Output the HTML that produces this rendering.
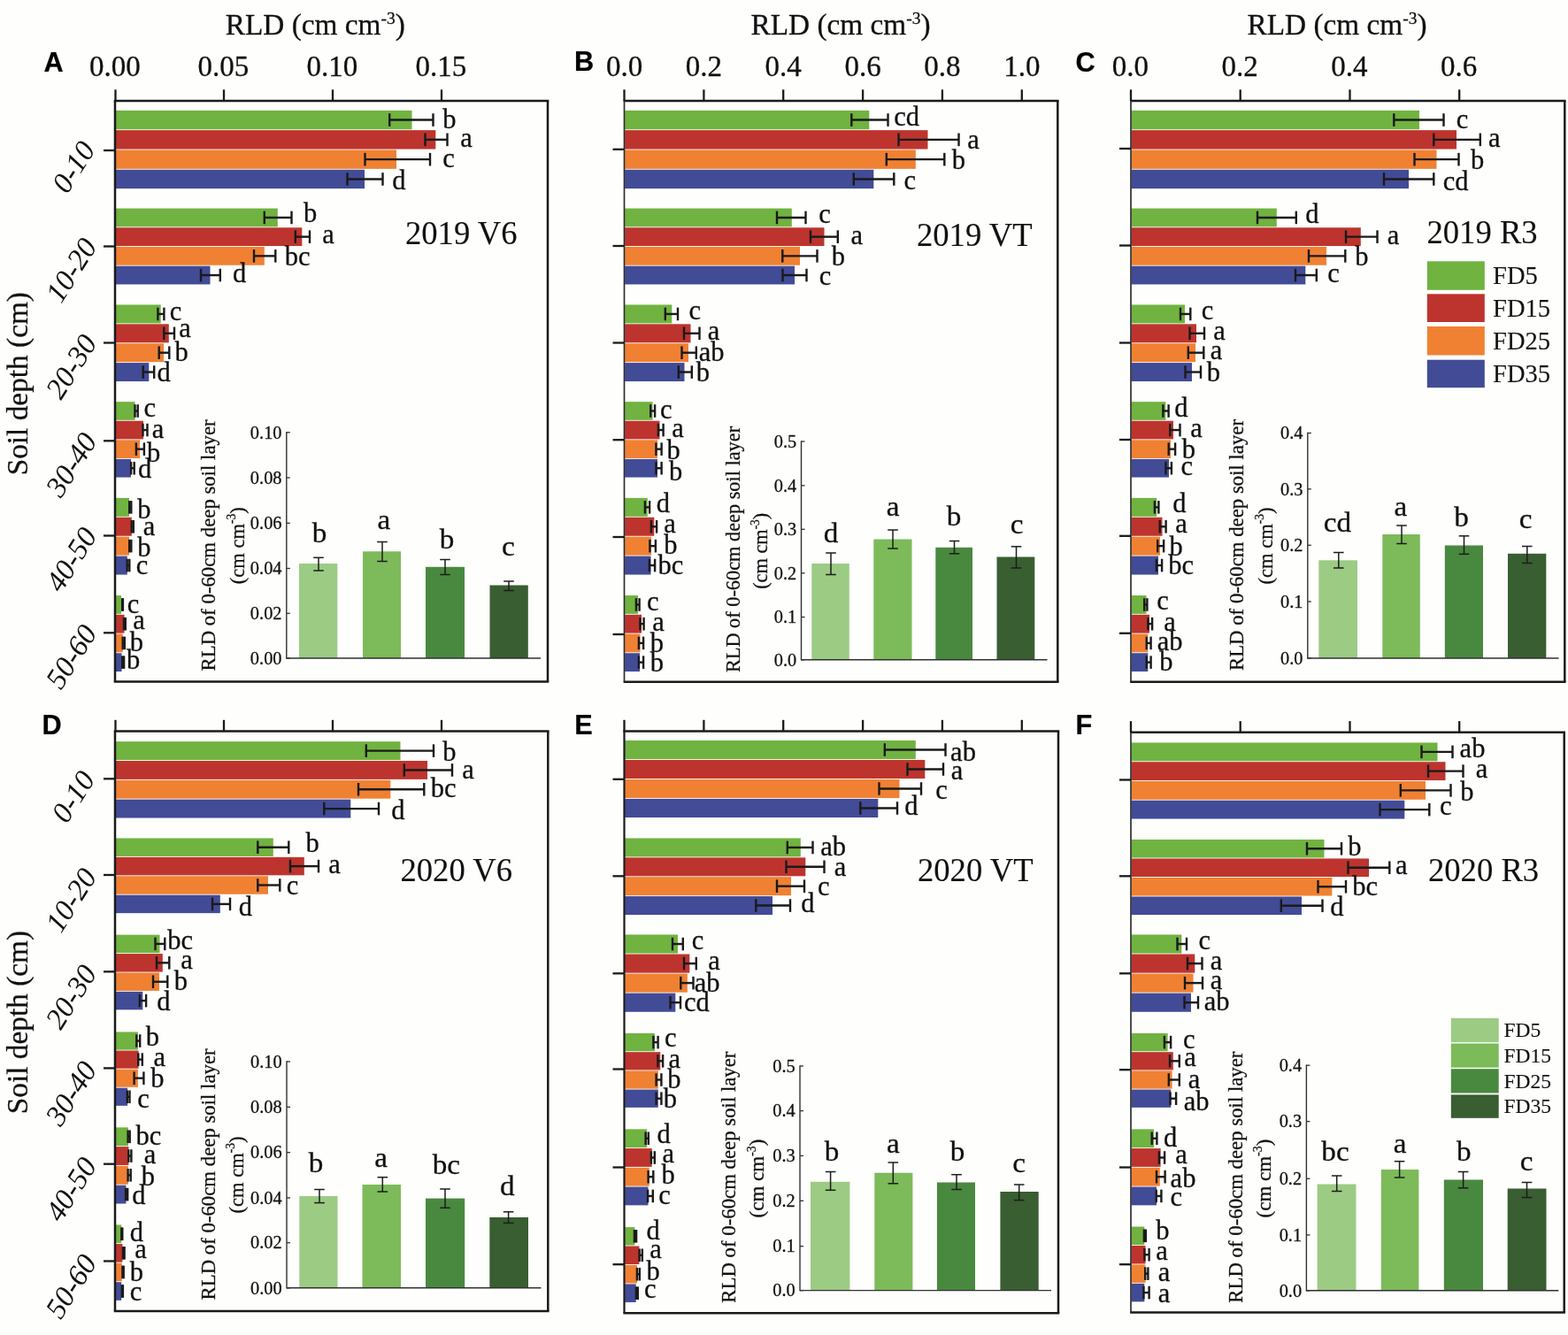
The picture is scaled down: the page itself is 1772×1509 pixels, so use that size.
<!DOCTYPE html>
<html lang="en">
<head>
<meta charset="utf-8">
<title>Root length density (RLD) by soil depth, 2019-2020</title>
<style>
html,body{margin:0;padding:0;background:#fefefd;}
body{width:1772px;height:1509px;overflow:hidden;}
svg{display:block;filter:blur(0.45px);}
text{fill:#111;font-family:"Liberation Serif", serif;stroke:#111;stroke-width:0.3px;}
text.i{font-style:italic;stroke-width:0;}
text.n{stroke-width:0.1px;}
text.b{font-family:"Liberation Sans", sans-serif;font-weight:bold;fill:#000;stroke:#000;stroke-width:0.25px;}
</style>
</head>
<body>
<svg width="1772" height="1509" viewBox="0 0 1772 1509" role="img" aria-label="Root length density by soil depth for FD5, FD15, FD25 and FD35 in 2019 and 2020">
<rect width="1772" height="1509" fill="#fefefd"/>
<g id="panel-A">
<rect x="130.6" y="124.85" width="334.9" height="21.4" fill="#70b340"/>
<line x1="440.2" y1="135.55" x2="489.5" y2="135.55" stroke="#1a1a1a" stroke-width="2.4"/>
<line x1="440.2" y1="128.25" x2="440.2" y2="142.85" stroke="#1a1a1a" stroke-width="2.4"/>
<line x1="489.5" y1="128.25" x2="489.5" y2="142.85" stroke="#1a1a1a" stroke-width="2.4"/>
<text class="s" transform="translate(500.3,144.8)" font-size="30.5">b</text>
<rect x="130.6" y="147.15" width="361.7" height="21.4" fill="#bd342e"/>
<line x1="480.5" y1="157.85" x2="505.5" y2="157.85" stroke="#1a1a1a" stroke-width="2.4"/>
<line x1="480.5" y1="150.55" x2="480.5" y2="165.15" stroke="#1a1a1a" stroke-width="2.4"/>
<line x1="505.5" y1="150.55" x2="505.5" y2="165.15" stroke="#1a1a1a" stroke-width="2.4"/>
<text class="s" transform="translate(520.3,166)" font-size="30.5">a</text>
<rect x="130.6" y="169.45" width="317.4" height="21.4" fill="#f08133"/>
<line x1="412.5" y1="180.15" x2="486" y2="180.15" stroke="#1a1a1a" stroke-width="2.4"/>
<line x1="412.5" y1="172.85" x2="412.5" y2="187.45" stroke="#1a1a1a" stroke-width="2.4"/>
<line x1="486" y1="172.85" x2="486" y2="187.45" stroke="#1a1a1a" stroke-width="2.4"/>
<text class="s" transform="translate(500.3,189)" font-size="30.5">c</text>
<rect x="130.6" y="191.75" width="281.4" height="21.4" fill="#424b96"/>
<line x1="392.5" y1="202.45" x2="432.5" y2="202.45" stroke="#1a1a1a" stroke-width="2.4"/>
<line x1="392.5" y1="195.15" x2="392.5" y2="209.75" stroke="#1a1a1a" stroke-width="2.4"/>
<line x1="432.5" y1="195.15" x2="432.5" y2="209.75" stroke="#1a1a1a" stroke-width="2.4"/>
<text class="s" transform="translate(443.3,213.5)" font-size="30.5">d</text>
<rect x="130.6" y="235.55" width="183.2" height="20.8" fill="#70b340"/>
<line x1="298.8" y1="245.95" x2="329.5" y2="245.95" stroke="#1a1a1a" stroke-width="2.4"/>
<line x1="298.8" y1="238.65" x2="298.8" y2="253.25" stroke="#1a1a1a" stroke-width="2.4"/>
<line x1="329.5" y1="238.65" x2="329.5" y2="253.25" stroke="#1a1a1a" stroke-width="2.4"/>
<text class="s" transform="translate(343.1,251)" font-size="30.5">b</text>
<rect x="130.6" y="257.25" width="210.7" height="20.8" fill="#bd342e"/>
<line x1="333.8" y1="267.65" x2="350" y2="267.65" stroke="#1a1a1a" stroke-width="2.4"/>
<line x1="333.8" y1="260.35" x2="333.8" y2="274.95" stroke="#1a1a1a" stroke-width="2.4"/>
<line x1="350" y1="260.35" x2="350" y2="274.95" stroke="#1a1a1a" stroke-width="2.4"/>
<text class="s" transform="translate(364.3,275)" font-size="30.5">a</text>
<rect x="130.6" y="278.95" width="168.2" height="20.8" fill="#f08133"/>
<line x1="287" y1="289.35" x2="311.3" y2="289.35" stroke="#1a1a1a" stroke-width="2.4"/>
<line x1="287" y1="282.05" x2="287" y2="296.65" stroke="#1a1a1a" stroke-width="2.4"/>
<line x1="311.3" y1="282.05" x2="311.3" y2="296.65" stroke="#1a1a1a" stroke-width="2.4"/>
<text class="s" transform="translate(321.8,299.8)" font-size="30.5">bc</text>
<rect x="130.6" y="300.65" width="106.9" height="20.8" fill="#424b96"/>
<line x1="227" y1="311.05" x2="248.8" y2="311.05" stroke="#1a1a1a" stroke-width="2.4"/>
<line x1="227" y1="303.75" x2="227" y2="318.35" stroke="#1a1a1a" stroke-width="2.4"/>
<line x1="248.8" y1="303.75" x2="248.8" y2="318.35" stroke="#1a1a1a" stroke-width="2.4"/>
<text class="s" transform="translate(263.1,319)" font-size="30.5">d</text>
<rect x="130.6" y="344.45" width="51.1" height="20.98" fill="#70b340"/>
<line x1="178.4" y1="354.94" x2="185.4" y2="354.94" stroke="#1a1a1a" stroke-width="2.4"/>
<line x1="178.4" y1="347.64" x2="178.4" y2="362.24" stroke="#1a1a1a" stroke-width="2.4"/>
<line x1="185.4" y1="347.64" x2="185.4" y2="362.24" stroke="#1a1a1a" stroke-width="2.4"/>
<text class="s" transform="translate(191.8,361.8)" font-size="30.5">c</text>
<rect x="130.6" y="366.32" width="60.2" height="20.98" fill="#bd342e"/>
<line x1="185.3" y1="376.81" x2="197" y2="376.81" stroke="#1a1a1a" stroke-width="2.4"/>
<line x1="185.3" y1="369.51" x2="185.3" y2="384.11" stroke="#1a1a1a" stroke-width="2.4"/>
<line x1="197" y1="369.51" x2="197" y2="384.11" stroke="#1a1a1a" stroke-width="2.4"/>
<text class="s" transform="translate(202.3,381)" font-size="30.5">a</text>
<rect x="130.6" y="388.2" width="54.4" height="20.98" fill="#f08133"/>
<line x1="179.7" y1="398.69" x2="191.3" y2="398.69" stroke="#1a1a1a" stroke-width="2.4"/>
<line x1="179.7" y1="391.39" x2="179.7" y2="405.99" stroke="#1a1a1a" stroke-width="2.4"/>
<line x1="191.3" y1="391.39" x2="191.3" y2="405.99" stroke="#1a1a1a" stroke-width="2.4"/>
<text class="s" transform="translate(197.6,408)" font-size="30.5">b</text>
<rect x="130.6" y="410.07" width="37.7" height="20.98" fill="#424b96"/>
<line x1="161.7" y1="420.56" x2="174.2" y2="420.56" stroke="#1a1a1a" stroke-width="2.4"/>
<line x1="161.7" y1="413.26" x2="161.7" y2="427.86" stroke="#1a1a1a" stroke-width="2.4"/>
<line x1="174.2" y1="413.26" x2="174.2" y2="427.86" stroke="#1a1a1a" stroke-width="2.4"/>
<text class="s" transform="translate(177.6,430.6)" font-size="30.5">d</text>
<rect x="130.6" y="454.15" width="22" height="20.68" fill="#70b340"/>
<line x1="152.5" y1="464.49" x2="155.7" y2="464.49" stroke="#1a1a1a" stroke-width="2.4"/>
<line x1="152.5" y1="457.19" x2="152.5" y2="471.79" stroke="#1a1a1a" stroke-width="2.4"/>
<line x1="155.7" y1="457.19" x2="155.7" y2="471.79" stroke="#1a1a1a" stroke-width="2.4"/>
<text class="s" transform="translate(162.6,471.3)" font-size="30.5">c</text>
<rect x="130.6" y="475.72" width="31.4" height="20.68" fill="#bd342e"/>
<line x1="161.5" y1="486.06" x2="166.5" y2="486.06" stroke="#1a1a1a" stroke-width="2.4"/>
<line x1="161.5" y1="478.76" x2="161.5" y2="493.36" stroke="#1a1a1a" stroke-width="2.4"/>
<line x1="166.5" y1="478.76" x2="166.5" y2="493.36" stroke="#1a1a1a" stroke-width="2.4"/>
<text class="s" transform="translate(171.8,494.6)" font-size="30.5">a</text>
<rect x="130.6" y="497.3" width="27.4" height="20.68" fill="#f08133"/>
<line x1="153.9" y1="507.64" x2="162.9" y2="507.64" stroke="#1a1a1a" stroke-width="2.4"/>
<line x1="153.9" y1="500.34" x2="153.9" y2="514.94" stroke="#1a1a1a" stroke-width="2.4"/>
<line x1="162.9" y1="500.34" x2="162.9" y2="514.94" stroke="#1a1a1a" stroke-width="2.4"/>
<text class="s" transform="translate(166,522.2)" font-size="30.5">b</text>
<rect x="130.6" y="518.88" width="17.4" height="20.68" fill="#424b96"/>
<line x1="148.1" y1="529.21" x2="151.7" y2="529.21" stroke="#1a1a1a" stroke-width="2.4"/>
<line x1="148.1" y1="521.91" x2="148.1" y2="536.51" stroke="#1a1a1a" stroke-width="2.4"/>
<line x1="151.7" y1="521.91" x2="151.7" y2="536.51" stroke="#1a1a1a" stroke-width="2.4"/>
<text class="s" transform="translate(156,540.1)" font-size="30.5">d</text>
<rect x="130.6" y="562.85" width="15.4" height="21" fill="#70b340"/>
<line x1="146.2" y1="573.35" x2="148.3" y2="573.35" stroke="#1a1a1a" stroke-width="2.4"/>
<line x1="146.2" y1="566.05" x2="146.2" y2="580.65" stroke="#1a1a1a" stroke-width="2.4"/>
<line x1="148.3" y1="566.05" x2="148.3" y2="580.65" stroke="#1a1a1a" stroke-width="2.4"/>
<text class="s" transform="translate(155.3,586)" font-size="30.5">b</text>
<rect x="130.6" y="584.75" width="18.2" height="21" fill="#bd342e"/>
<line x1="148.7" y1="595.25" x2="150.8" y2="595.25" stroke="#1a1a1a" stroke-width="2.4"/>
<line x1="148.7" y1="587.95" x2="148.7" y2="602.55" stroke="#1a1a1a" stroke-width="2.4"/>
<line x1="150.8" y1="587.95" x2="150.8" y2="602.55" stroke="#1a1a1a" stroke-width="2.4"/>
<text class="s" transform="translate(161.8,605)" font-size="30.5">a</text>
<rect x="130.6" y="606.65" width="15.4" height="21" fill="#f08133"/>
<line x1="146.2" y1="617.15" x2="148.3" y2="617.15" stroke="#1a1a1a" stroke-width="2.4"/>
<line x1="146.2" y1="609.85" x2="146.2" y2="624.45" stroke="#1a1a1a" stroke-width="2.4"/>
<line x1="148.3" y1="609.85" x2="148.3" y2="624.45" stroke="#1a1a1a" stroke-width="2.4"/>
<text class="s" transform="translate(155.3,629)" font-size="30.5">b</text>
<rect x="130.6" y="628.55" width="13.2" height="21" fill="#424b96"/>
<line x1="143.7" y1="639.05" x2="146.3" y2="639.05" stroke="#1a1a1a" stroke-width="2.4"/>
<line x1="143.7" y1="631.75" x2="143.7" y2="646.35" stroke="#1a1a1a" stroke-width="2.4"/>
<line x1="146.3" y1="631.75" x2="146.3" y2="646.35" stroke="#1a1a1a" stroke-width="2.4"/>
<text class="s" transform="translate(153.8,648.5)" font-size="30.5">c</text>
<rect x="130.6" y="673.05" width="6.4" height="20.82" fill="#70b340"/>
<line x1="138.2" y1="683.46" x2="138.9" y2="683.46" stroke="#1a1a1a" stroke-width="2.4"/>
<line x1="138.2" y1="676.16" x2="138.2" y2="690.76" stroke="#1a1a1a" stroke-width="2.4"/>
<line x1="138.9" y1="676.16" x2="138.9" y2="690.76" stroke="#1a1a1a" stroke-width="2.4"/>
<text class="s" transform="translate(143.8,692.5)" font-size="30.5">c</text>
<rect x="130.6" y="694.78" width="9.9" height="20.82" fill="#bd342e"/>
<line x1="140" y1="705.19" x2="141.8" y2="705.19" stroke="#1a1a1a" stroke-width="2.4"/>
<line x1="140" y1="697.89" x2="140" y2="712.49" stroke="#1a1a1a" stroke-width="2.4"/>
<line x1="141.8" y1="697.89" x2="141.8" y2="712.49" stroke="#1a1a1a" stroke-width="2.4"/>
<text class="s" transform="translate(150.3,710.5)" font-size="30.5">a</text>
<rect x="130.6" y="716.5" width="8.2" height="20.82" fill="#f08133"/>
<line x1="138.7" y1="726.91" x2="140.8" y2="726.91" stroke="#1a1a1a" stroke-width="2.4"/>
<line x1="138.7" y1="719.61" x2="138.7" y2="734.21" stroke="#1a1a1a" stroke-width="2.4"/>
<line x1="140.8" y1="719.61" x2="140.8" y2="734.21" stroke="#1a1a1a" stroke-width="2.4"/>
<text class="s" transform="translate(146.8,736)" font-size="30.5">b</text>
<rect x="130.6" y="738.23" width="6.9" height="20.82" fill="#424b96"/>
<line x1="138.2" y1="748.64" x2="140.1" y2="748.64" stroke="#1a1a1a" stroke-width="2.4"/>
<line x1="138.2" y1="741.34" x2="138.2" y2="755.94" stroke="#1a1a1a" stroke-width="2.4"/>
<line x1="140.1" y1="741.34" x2="140.1" y2="755.94" stroke="#1a1a1a" stroke-width="2.4"/>
<text class="s" transform="translate(143.1,755.6)" font-size="30.5">b</text>
<line x1="128.75" y1="114" x2="620.25" y2="114" stroke="#1a1a1a" stroke-width="2.5"/>
<line x1="619" y1="114" x2="619" y2="770.5" stroke="#1a1a1a" stroke-width="2.5"/>
<line x1="128.75" y1="770.5" x2="620.25" y2="770.5" stroke="#1a1a1a" stroke-width="2.5"/>
<line x1="130" y1="114" x2="130" y2="770.5" stroke="#1a1a1a" stroke-width="2.5"/>
<line x1="130.5" y1="101.3" x2="130.5" y2="114" stroke="#1a1a1a" stroke-width="2.3"/>
<line x1="253" y1="101.3" x2="253" y2="114" stroke="#1a1a1a" stroke-width="2.3"/>
<line x1="376" y1="101.3" x2="376" y2="114" stroke="#1a1a1a" stroke-width="2.3"/>
<line x1="499" y1="101.3" x2="499" y2="114" stroke="#1a1a1a" stroke-width="2.3"/>
<line x1="117" y1="170" x2="130" y2="170" stroke="#1a1a1a" stroke-width="2.3"/>
<line x1="117" y1="278.5" x2="130" y2="278.5" stroke="#1a1a1a" stroke-width="2.3"/>
<line x1="117" y1="387.5" x2="130" y2="387.5" stroke="#1a1a1a" stroke-width="2.3"/>
<line x1="117" y1="498.3" x2="130" y2="498.3" stroke="#1a1a1a" stroke-width="2.3"/>
<line x1="117" y1="605.5" x2="130" y2="605.5" stroke="#1a1a1a" stroke-width="2.3"/>
<line x1="117" y1="715.3" x2="130" y2="715.3" stroke="#1a1a1a" stroke-width="2.3"/>
<text class="s" transform="translate(129.8,85.5)" font-size="33" text-anchor="middle">0.00</text>
<text class="s" transform="translate(252.3,85.5)" font-size="33" text-anchor="middle">0.05</text>
<text class="s" transform="translate(375.3,85.5)" font-size="33" text-anchor="middle">0.10</text>
<text class="s" transform="translate(498.3,85.5)" font-size="33" text-anchor="middle">0.15</text>
<text class="s" transform="translate(356.3,39.3)" font-size="33.3" text-anchor="middle">RLD (cm cm<tspan font-size="19.5" dy="-12.3">-3</tspan><tspan dy="12.3">)</tspan></text>
<text class="b" transform="translate(49.6,80.9) scale(0.98,1)" font-size="31.3">A</text>
<text class="n" transform="translate(458,276.3) scale(0.99,1)" font-size="37">2019 V6</text>
<text class="i" transform="translate(108.7,168.9) rotate(-57.5)" font-size="33.2" text-anchor="end">0-10</text>
<text class="i" transform="translate(110.7,278.6) rotate(-57.5)" font-size="33.2" text-anchor="end">10-20</text>
<text class="i" transform="translate(110.7,387.6) rotate(-57.5)" font-size="33.2" text-anchor="end">20-30</text>
<text class="i" transform="translate(110.7,498.4) rotate(-57.5)" font-size="33.2" text-anchor="end">30-40</text>
<text class="i" transform="translate(110.7,605.6) rotate(-57.5)" font-size="33.2" text-anchor="end">40-50</text>
<text class="i" transform="translate(110.7,715.4) rotate(-57.5)" font-size="33.2" text-anchor="end">50-60</text>
<text class="s" transform="translate(31,433.7) rotate(-90) scale(1.01,1)" font-size="33" text-anchor="middle">Soil depth (cm)</text>
<rect x="338" y="637" width="43.3" height="107" fill="#9ccb84"/>
<rect x="410" y="623.3" width="43" height="120.7" fill="#7dba5a"/>
<rect x="481" y="640.8" width="44" height="103.2" fill="#49893f"/>
<rect x="553.5" y="661.5" width="43.3" height="82.5" fill="#395e31"/>
<line x1="360" y1="630.3" x2="360" y2="645" stroke="#1c1c1c" stroke-width="1.5"/>
<line x1="354.2" y1="630.3" x2="365.8" y2="630.3" stroke="#1c1c1c" stroke-width="1.5"/>
<line x1="354.2" y1="645" x2="365.8" y2="645" stroke="#1c1c1c" stroke-width="1.5"/>
<text class="s" transform="translate(361,613.3) scale(1.07,1)" font-size="31" text-anchor="middle">b</text>
<line x1="432" y1="612.5" x2="432" y2="634.5" stroke="#1c1c1c" stroke-width="1.5"/>
<line x1="426.2" y1="612.5" x2="437.8" y2="612.5" stroke="#1c1c1c" stroke-width="1.5"/>
<line x1="426.2" y1="634.5" x2="437.8" y2="634.5" stroke="#1c1c1c" stroke-width="1.5"/>
<text class="s" transform="translate(433.8,598.3) scale(1.07,1)" font-size="31" text-anchor="middle">a</text>
<line x1="503" y1="632.5" x2="503" y2="649.5" stroke="#1c1c1c" stroke-width="1.5"/>
<line x1="497.2" y1="632.5" x2="508.8" y2="632.5" stroke="#1c1c1c" stroke-width="1.5"/>
<line x1="497.2" y1="649.5" x2="508.8" y2="649.5" stroke="#1c1c1c" stroke-width="1.5"/>
<text class="s" transform="translate(505,619.5) scale(1.07,1)" font-size="31" text-anchor="middle">b</text>
<line x1="575" y1="657" x2="575" y2="667.5" stroke="#1c1c1c" stroke-width="1.5"/>
<line x1="569.2" y1="657" x2="580.8" y2="657" stroke="#1c1c1c" stroke-width="1.5"/>
<line x1="569.2" y1="667.5" x2="580.8" y2="667.5" stroke="#1c1c1c" stroke-width="1.5"/>
<text class="s" transform="translate(574.3,628.3) scale(1.07,1)" font-size="31" text-anchor="middle">c</text>
<line x1="323.8" y1="488.1" x2="323.8" y2="744.7" stroke="#303030" stroke-width="1.4"/>
<line x1="323.8" y1="744" x2="611" y2="744" stroke="#303030" stroke-width="1.4"/>
<line x1="323.8" y1="488.8" x2="327.8" y2="488.8" stroke="#303030" stroke-width="1.3"/>
<text class="s" transform="translate(318.5,495.5) scale(0.97,1)" font-size="21" text-anchor="end">0.10</text>
<line x1="323.8" y1="540" x2="327.8" y2="540" stroke="#303030" stroke-width="1.3"/>
<text class="s" transform="translate(318.5,546.7) scale(0.97,1)" font-size="21" text-anchor="end">0.08</text>
<line x1="323.8" y1="591.3" x2="327.8" y2="591.3" stroke="#303030" stroke-width="1.3"/>
<text class="s" transform="translate(318.5,598) scale(0.97,1)" font-size="21" text-anchor="end">0.06</text>
<line x1="323.8" y1="642.5" x2="327.8" y2="642.5" stroke="#303030" stroke-width="1.3"/>
<text class="s" transform="translate(318.5,649.2) scale(0.97,1)" font-size="21" text-anchor="end">0.04</text>
<line x1="323.8" y1="693.3" x2="327.8" y2="693.3" stroke="#303030" stroke-width="1.3"/>
<text class="s" transform="translate(318.5,700) scale(0.97,1)" font-size="21" text-anchor="end">0.02</text>
<line x1="323.8" y1="744" x2="327.8" y2="744" stroke="#303030" stroke-width="1.3"/>
<text class="s" transform="translate(318.5,750.7) scale(0.97,1)" font-size="21" text-anchor="end">0.00</text>
<text class="s" transform="translate(242.5,616.4) rotate(-90) scale(0.97,1)" font-size="23.5" text-anchor="middle">RLD of 0-60cm deep soil layer</text>
<text class="s" transform="translate(275.5,616.7) rotate(-90) scale(0.96,1)" font-size="23.5" text-anchor="middle">(cm cm<tspan font-size="14.1" dy="-9.4">-3</tspan><tspan dy="9.4">)</tspan></text>
</g>
<g id="panel-B">
<rect x="706.1" y="124.85" width="276.2" height="21.4" fill="#70b340"/>
<line x1="962.3" y1="135.55" x2="1003.5" y2="135.55" stroke="#1a1a1a" stroke-width="2.4"/>
<line x1="962.3" y1="128.25" x2="962.3" y2="142.85" stroke="#1a1a1a" stroke-width="2.4"/>
<line x1="1003.5" y1="128.25" x2="1003.5" y2="142.85" stroke="#1a1a1a" stroke-width="2.4"/>
<text class="s" transform="translate(1010.3,142.3)" font-size="30.5">cd</text>
<rect x="706.1" y="147.15" width="342.4" height="21.4" fill="#bd342e"/>
<line x1="1015.5" y1="157.85" x2="1083.5" y2="157.85" stroke="#1a1a1a" stroke-width="2.4"/>
<line x1="1015.5" y1="150.55" x2="1015.5" y2="165.15" stroke="#1a1a1a" stroke-width="2.4"/>
<line x1="1083.5" y1="150.55" x2="1083.5" y2="165.15" stroke="#1a1a1a" stroke-width="2.4"/>
<text class="s" transform="translate(1093.3,168)" font-size="30.5">a</text>
<rect x="706.1" y="169.45" width="328.7" height="21.4" fill="#f08133"/>
<line x1="1001.8" y1="180.15" x2="1067.3" y2="180.15" stroke="#1a1a1a" stroke-width="2.4"/>
<line x1="1001.8" y1="172.85" x2="1001.8" y2="187.45" stroke="#1a1a1a" stroke-width="2.4"/>
<line x1="1067.3" y1="172.85" x2="1067.3" y2="187.45" stroke="#1a1a1a" stroke-width="2.4"/>
<text class="s" transform="translate(1075.8,190.5)" font-size="30.5">b</text>
<rect x="706.1" y="191.75" width="281.2" height="21.4" fill="#424b96"/>
<line x1="964.8" y1="202.45" x2="1010.3" y2="202.45" stroke="#1a1a1a" stroke-width="2.4"/>
<line x1="964.8" y1="195.15" x2="964.8" y2="209.75" stroke="#1a1a1a" stroke-width="2.4"/>
<line x1="1010.3" y1="195.15" x2="1010.3" y2="209.75" stroke="#1a1a1a" stroke-width="2.4"/>
<text class="s" transform="translate(1021.6,214)" font-size="30.5">c</text>
<rect x="706.1" y="235.55" width="188.7" height="20.8" fill="#70b340"/>
<line x1="878" y1="245.95" x2="910.5" y2="245.95" stroke="#1a1a1a" stroke-width="2.4"/>
<line x1="878" y1="238.65" x2="878" y2="253.25" stroke="#1a1a1a" stroke-width="2.4"/>
<line x1="910.5" y1="238.65" x2="910.5" y2="253.25" stroke="#1a1a1a" stroke-width="2.4"/>
<text class="s" transform="translate(925.3,251.8)" font-size="30.5">c</text>
<rect x="706.1" y="257.25" width="225.4" height="20.8" fill="#bd342e"/>
<line x1="916" y1="267.65" x2="946.8" y2="267.65" stroke="#1a1a1a" stroke-width="2.4"/>
<line x1="916" y1="260.35" x2="916" y2="274.95" stroke="#1a1a1a" stroke-width="2.4"/>
<line x1="946.8" y1="260.35" x2="946.8" y2="274.95" stroke="#1a1a1a" stroke-width="2.4"/>
<text class="s" transform="translate(961.6,275.5)" font-size="30.5">a</text>
<rect x="706.1" y="278.95" width="197.9" height="20.8" fill="#f08133"/>
<line x1="884.3" y1="289.35" x2="923.5" y2="289.35" stroke="#1a1a1a" stroke-width="2.4"/>
<line x1="884.3" y1="282.05" x2="884.3" y2="296.65" stroke="#1a1a1a" stroke-width="2.4"/>
<line x1="923.5" y1="282.05" x2="923.5" y2="296.65" stroke="#1a1a1a" stroke-width="2.4"/>
<text class="s" transform="translate(939.8,299.8)" font-size="30.5">b</text>
<rect x="706.1" y="300.65" width="191.9" height="20.8" fill="#424b96"/>
<line x1="884.5" y1="311.05" x2="911.5" y2="311.05" stroke="#1a1a1a" stroke-width="2.4"/>
<line x1="884.5" y1="303.75" x2="884.5" y2="318.35" stroke="#1a1a1a" stroke-width="2.4"/>
<line x1="911.5" y1="303.75" x2="911.5" y2="318.35" stroke="#1a1a1a" stroke-width="2.4"/>
<text class="s" transform="translate(925.8,321.5)" font-size="30.5">c</text>
<rect x="706.1" y="344.45" width="53.2" height="20.98" fill="#70b340"/>
<line x1="751.8" y1="354.94" x2="766" y2="354.94" stroke="#1a1a1a" stroke-width="2.4"/>
<line x1="751.8" y1="347.64" x2="751.8" y2="362.24" stroke="#1a1a1a" stroke-width="2.4"/>
<line x1="766" y1="347.64" x2="766" y2="362.24" stroke="#1a1a1a" stroke-width="2.4"/>
<text class="s" transform="translate(778.6,361)" font-size="30.5">c</text>
<rect x="706.1" y="366.32" width="74.4" height="20.98" fill="#bd342e"/>
<line x1="773" y1="376.81" x2="790.5" y2="376.81" stroke="#1a1a1a" stroke-width="2.4"/>
<line x1="773" y1="369.51" x2="773" y2="384.11" stroke="#1a1a1a" stroke-width="2.4"/>
<line x1="790.5" y1="369.51" x2="790.5" y2="384.11" stroke="#1a1a1a" stroke-width="2.4"/>
<text class="s" transform="translate(799.8,384)" font-size="30.5">a</text>
<rect x="706.1" y="388.2" width="71.9" height="20.98" fill="#f08133"/>
<line x1="770.5" y1="398.69" x2="786.8" y2="398.69" stroke="#1a1a1a" stroke-width="2.4"/>
<line x1="770.5" y1="391.39" x2="770.5" y2="405.99" stroke="#1a1a1a" stroke-width="2.4"/>
<line x1="786.8" y1="391.39" x2="786.8" y2="405.99" stroke="#1a1a1a" stroke-width="2.4"/>
<text class="s" transform="translate(789.8,407.5)" font-size="30.5">ab</text>
<rect x="706.1" y="410.07" width="67.4" height="20.98" fill="#424b96"/>
<line x1="766.8" y1="420.56" x2="781.8" y2="420.56" stroke="#1a1a1a" stroke-width="2.4"/>
<line x1="766.8" y1="413.26" x2="766.8" y2="427.86" stroke="#1a1a1a" stroke-width="2.4"/>
<line x1="781.8" y1="413.26" x2="781.8" y2="427.86" stroke="#1a1a1a" stroke-width="2.4"/>
<text class="s" transform="translate(786.8,431)" font-size="30.5">b</text>
<rect x="706.1" y="454.15" width="31.4" height="20.68" fill="#70b340"/>
<line x1="735.2" y1="464.49" x2="740.1" y2="464.49" stroke="#1a1a1a" stroke-width="2.4"/>
<line x1="735.2" y1="457.19" x2="735.2" y2="471.79" stroke="#1a1a1a" stroke-width="2.4"/>
<line x1="740.1" y1="457.19" x2="740.1" y2="471.79" stroke="#1a1a1a" stroke-width="2.4"/>
<text class="s" transform="translate(746.1,472.5)" font-size="30.5">c</text>
<rect x="706.1" y="475.72" width="39.4" height="20.68" fill="#bd342e"/>
<line x1="743.9" y1="486.06" x2="749.6" y2="486.06" stroke="#1a1a1a" stroke-width="2.4"/>
<line x1="743.9" y1="478.76" x2="743.9" y2="493.36" stroke="#1a1a1a" stroke-width="2.4"/>
<line x1="749.6" y1="478.76" x2="749.6" y2="493.36" stroke="#1a1a1a" stroke-width="2.4"/>
<text class="s" transform="translate(759.3,494.3)" font-size="30.5">a</text>
<rect x="706.1" y="497.3" width="36.9" height="20.68" fill="#f08133"/>
<line x1="741.4" y1="507.64" x2="747.6" y2="507.64" stroke="#1a1a1a" stroke-width="2.4"/>
<line x1="741.4" y1="500.34" x2="741.4" y2="514.94" stroke="#1a1a1a" stroke-width="2.4"/>
<line x1="747.6" y1="500.34" x2="747.6" y2="514.94" stroke="#1a1a1a" stroke-width="2.4"/>
<text class="s" transform="translate(753.6,518.5)" font-size="30.5">b</text>
<rect x="706.1" y="518.88" width="36.9" height="20.68" fill="#424b96"/>
<line x1="741.4" y1="529.21" x2="747.6" y2="529.21" stroke="#1a1a1a" stroke-width="2.4"/>
<line x1="741.4" y1="521.91" x2="741.4" y2="536.51" stroke="#1a1a1a" stroke-width="2.4"/>
<line x1="747.6" y1="521.91" x2="747.6" y2="536.51" stroke="#1a1a1a" stroke-width="2.4"/>
<text class="s" transform="translate(756.1,543)" font-size="30.5">b</text>
<rect x="706.1" y="562.85" width="25.7" height="21" fill="#70b340"/>
<line x1="728.9" y1="573.35" x2="734.1" y2="573.35" stroke="#1a1a1a" stroke-width="2.4"/>
<line x1="728.9" y1="566.05" x2="728.9" y2="580.65" stroke="#1a1a1a" stroke-width="2.4"/>
<line x1="734.1" y1="566.05" x2="734.1" y2="580.65" stroke="#1a1a1a" stroke-width="2.4"/>
<text class="s" transform="translate(741.8,579)" font-size="30.5">d</text>
<rect x="706.1" y="584.75" width="33.2" height="21" fill="#bd342e"/>
<line x1="735.9" y1="595.25" x2="742.1" y2="595.25" stroke="#1a1a1a" stroke-width="2.4"/>
<line x1="735.9" y1="587.95" x2="735.9" y2="602.55" stroke="#1a1a1a" stroke-width="2.4"/>
<line x1="742.1" y1="587.95" x2="742.1" y2="602.55" stroke="#1a1a1a" stroke-width="2.4"/>
<text class="s" transform="translate(750.3,601.8)" font-size="30.5">a</text>
<rect x="706.1" y="606.65" width="29.9" height="21" fill="#f08133"/>
<line x1="734.4" y1="617.15" x2="740.9" y2="617.15" stroke="#1a1a1a" stroke-width="2.4"/>
<line x1="734.4" y1="609.85" x2="734.4" y2="624.45" stroke="#1a1a1a" stroke-width="2.4"/>
<line x1="740.9" y1="609.85" x2="740.9" y2="624.45" stroke="#1a1a1a" stroke-width="2.4"/>
<text class="s" transform="translate(750.3,625.5)" font-size="30.5">b</text>
<rect x="706.1" y="628.55" width="29.4" height="21" fill="#424b96"/>
<line x1="733.9" y1="639.05" x2="740.1" y2="639.05" stroke="#1a1a1a" stroke-width="2.4"/>
<line x1="733.9" y1="631.75" x2="733.9" y2="646.35" stroke="#1a1a1a" stroke-width="2.4"/>
<line x1="740.1" y1="631.75" x2="740.1" y2="646.35" stroke="#1a1a1a" stroke-width="2.4"/>
<text class="s" transform="translate(743.6,649.3)" font-size="30.5">bc</text>
<rect x="706.1" y="673.05" width="14.9" height="20.82" fill="#70b340"/>
<line x1="718.9" y1="683.46" x2="722.6" y2="683.46" stroke="#1a1a1a" stroke-width="2.4"/>
<line x1="718.9" y1="676.16" x2="718.9" y2="690.76" stroke="#1a1a1a" stroke-width="2.4"/>
<line x1="722.6" y1="676.16" x2="722.6" y2="690.76" stroke="#1a1a1a" stroke-width="2.4"/>
<text class="s" transform="translate(731.1,690)" font-size="30.5">c</text>
<rect x="706.1" y="694.78" width="18.9" height="20.82" fill="#bd342e"/>
<line x1="723.4" y1="705.19" x2="727.6" y2="705.19" stroke="#1a1a1a" stroke-width="2.4"/>
<line x1="723.4" y1="697.89" x2="723.4" y2="712.49" stroke="#1a1a1a" stroke-width="2.4"/>
<line x1="727.6" y1="697.89" x2="727.6" y2="712.49" stroke="#1a1a1a" stroke-width="2.4"/>
<text class="s" transform="translate(737.3,712.5)" font-size="30.5">a</text>
<rect x="706.1" y="716.5" width="17.4" height="20.82" fill="#f08133"/>
<line x1="721.9" y1="726.91" x2="727.1" y2="726.91" stroke="#1a1a1a" stroke-width="2.4"/>
<line x1="721.9" y1="719.61" x2="721.9" y2="734.21" stroke="#1a1a1a" stroke-width="2.4"/>
<line x1="727.1" y1="719.61" x2="727.1" y2="734.21" stroke="#1a1a1a" stroke-width="2.4"/>
<text class="s" transform="translate(734.8,737)" font-size="30.5">b</text>
<rect x="706.1" y="738.23" width="16.9" height="20.82" fill="#424b96"/>
<line x1="721.9" y1="748.64" x2="727.1" y2="748.64" stroke="#1a1a1a" stroke-width="2.4"/>
<line x1="721.9" y1="741.34" x2="721.9" y2="755.94" stroke="#1a1a1a" stroke-width="2.4"/>
<line x1="727.1" y1="741.34" x2="727.1" y2="755.94" stroke="#1a1a1a" stroke-width="2.4"/>
<text class="s" transform="translate(734.8,759)" font-size="30.5">b</text>
<line x1="704.65" y1="114" x2="1196.55" y2="114" stroke="#1a1a1a" stroke-width="2.5"/>
<line x1="1195.3" y1="114" x2="1195.3" y2="770.7" stroke="#1a1a1a" stroke-width="2.5"/>
<line x1="704.65" y1="770.7" x2="1196.55" y2="770.7" stroke="#1a1a1a" stroke-width="2.5"/>
<line x1="705.5" y1="114" x2="705.5" y2="770.7" stroke="#2e2e2e" stroke-width="1.7"/>
<line x1="705.5" y1="101.3" x2="705.5" y2="114" stroke="#1a1a1a" stroke-width="2.3"/>
<line x1="795.4" y1="101.3" x2="795.4" y2="114" stroke="#1a1a1a" stroke-width="2.3"/>
<line x1="885.2" y1="101.3" x2="885.2" y2="114" stroke="#1a1a1a" stroke-width="2.3"/>
<line x1="975.1" y1="101.3" x2="975.1" y2="114" stroke="#1a1a1a" stroke-width="2.3"/>
<line x1="1064.9" y1="101.3" x2="1064.9" y2="114" stroke="#1a1a1a" stroke-width="2.3"/>
<line x1="1154.8" y1="101.3" x2="1154.8" y2="114" stroke="#1a1a1a" stroke-width="2.3"/>
<line x1="692.5" y1="168.8" x2="705.5" y2="168.8" stroke="#1a1a1a" stroke-width="2.3"/>
<line x1="692.5" y1="278" x2="705.5" y2="278" stroke="#1a1a1a" stroke-width="2.3"/>
<line x1="692.5" y1="387.5" x2="705.5" y2="387.5" stroke="#1a1a1a" stroke-width="2.3"/>
<line x1="692.5" y1="497.2" x2="705.5" y2="497.2" stroke="#1a1a1a" stroke-width="2.3"/>
<line x1="692.5" y1="607" x2="705.5" y2="607" stroke="#1a1a1a" stroke-width="2.3"/>
<line x1="692.5" y1="717" x2="705.5" y2="717" stroke="#1a1a1a" stroke-width="2.3"/>
<text class="s" transform="translate(705.5,85.5)" font-size="33" text-anchor="middle">0.0</text>
<text class="s" transform="translate(795.4,85.5)" font-size="33" text-anchor="middle">0.2</text>
<text class="s" transform="translate(885.2,85.5)" font-size="33" text-anchor="middle">0.4</text>
<text class="s" transform="translate(975.1,85.5)" font-size="33" text-anchor="middle">0.6</text>
<text class="s" transform="translate(1064.9,85.5)" font-size="33" text-anchor="middle">0.8</text>
<text class="s" transform="translate(1154.8,85.5)" font-size="33" text-anchor="middle">1.0</text>
<text class="s" transform="translate(950,39.3)" font-size="33.3" text-anchor="middle">RLD (cm cm<tspan font-size="19.5" dy="-12.3">-3</tspan><tspan dy="12.3">)</tspan></text>
<text class="b" transform="translate(649,80.4) scale(0.98,1)" font-size="31.3">B</text>
<text class="n" transform="translate(1036,278) scale(0.99,1)" font-size="37">2019 VT</text>
<rect x="917.3" y="637" width="42.5" height="108.8" fill="#9ccb84"/>
<rect x="987.3" y="609.5" width="43.2" height="136.3" fill="#7dba5a"/>
<rect x="1057.3" y="618.8" width="41.7" height="127" fill="#49893f"/>
<rect x="1126.5" y="629.5" width="42.8" height="116.3" fill="#395e31"/>
<line x1="939" y1="625" x2="939" y2="649.5" stroke="#1c1c1c" stroke-width="1.5"/>
<line x1="933.2" y1="625" x2="944.8" y2="625" stroke="#1c1c1c" stroke-width="1.5"/>
<line x1="933.2" y1="649.5" x2="944.8" y2="649.5" stroke="#1c1c1c" stroke-width="1.5"/>
<text class="s" transform="translate(939,613.3) scale(1.07,1)" font-size="31" text-anchor="middle">d</text>
<line x1="1009" y1="599" x2="1009" y2="620" stroke="#1c1c1c" stroke-width="1.5"/>
<line x1="1003.2" y1="599" x2="1014.8" y2="599" stroke="#1c1c1c" stroke-width="1.5"/>
<line x1="1003.2" y1="620" x2="1014.8" y2="620" stroke="#1c1c1c" stroke-width="1.5"/>
<text class="s" transform="translate(1009,582.5) scale(1.07,1)" font-size="31" text-anchor="middle">a</text>
<line x1="1078.5" y1="611.5" x2="1078.5" y2="625.8" stroke="#1c1c1c" stroke-width="1.5"/>
<line x1="1072.7" y1="611.5" x2="1084.3" y2="611.5" stroke="#1c1c1c" stroke-width="1.5"/>
<line x1="1072.7" y1="625.8" x2="1084.3" y2="625.8" stroke="#1c1c1c" stroke-width="1.5"/>
<text class="s" transform="translate(1078,594) scale(1.07,1)" font-size="31" text-anchor="middle">b</text>
<line x1="1148.5" y1="617.8" x2="1148.5" y2="642" stroke="#1c1c1c" stroke-width="1.5"/>
<line x1="1142.7" y1="617.8" x2="1154.3" y2="617.8" stroke="#1c1c1c" stroke-width="1.5"/>
<line x1="1142.7" y1="642" x2="1154.3" y2="642" stroke="#1c1c1c" stroke-width="1.5"/>
<text class="s" transform="translate(1149,603.3) scale(1.07,1)" font-size="31" text-anchor="middle">c</text>
<line x1="905.5" y1="498.3" x2="905.5" y2="746.5" stroke="#303030" stroke-width="1.4"/>
<line x1="905.5" y1="745.8" x2="1183.5" y2="745.8" stroke="#303030" stroke-width="1.4"/>
<line x1="905.5" y1="499" x2="909.5" y2="499" stroke="#303030" stroke-width="1.3"/>
<text class="s" transform="translate(900.2,505.7) scale(0.97,1)" font-size="21" text-anchor="end">0.5</text>
<line x1="905.5" y1="548.8" x2="909.5" y2="548.8" stroke="#303030" stroke-width="1.3"/>
<text class="s" transform="translate(900.2,555.5) scale(0.97,1)" font-size="21" text-anchor="end">0.4</text>
<line x1="905.5" y1="598.3" x2="909.5" y2="598.3" stroke="#303030" stroke-width="1.3"/>
<text class="s" transform="translate(900.2,605) scale(0.97,1)" font-size="21" text-anchor="end">0.3</text>
<line x1="905.5" y1="647.8" x2="909.5" y2="647.8" stroke="#303030" stroke-width="1.3"/>
<text class="s" transform="translate(900.2,654.5) scale(0.97,1)" font-size="21" text-anchor="end">0.2</text>
<line x1="905.5" y1="697.5" x2="909.5" y2="697.5" stroke="#303030" stroke-width="1.3"/>
<text class="s" transform="translate(900.2,704.2) scale(0.97,1)" font-size="21" text-anchor="end">0.1</text>
<line x1="905.5" y1="745.8" x2="909.5" y2="745.8" stroke="#303030" stroke-width="1.3"/>
<text class="s" transform="translate(900.2,752.5) scale(0.97,1)" font-size="21" text-anchor="end">0.0</text>
<text class="s" transform="translate(835.5,621) rotate(-90) scale(0.95,1)" font-size="23.5" text-anchor="middle">RLD of 0-60cm deep soil layer</text>
<text class="s" transform="translate(867.3,622.8) rotate(-90) scale(0.95,1)" font-size="23.5" text-anchor="middle">(cm cm<tspan font-size="14.1" dy="-9.4">-3</tspan><tspan dy="9.4">)</tspan></text>
</g>
<g id="panel-C">
<rect x="1278.6" y="124.85" width="325.4" height="21.4" fill="#70b340"/>
<line x1="1575.3" y1="135.55" x2="1631.5" y2="135.55" stroke="#1a1a1a" stroke-width="2.4"/>
<line x1="1575.3" y1="128.25" x2="1575.3" y2="142.85" stroke="#1a1a1a" stroke-width="2.4"/>
<line x1="1631.5" y1="128.25" x2="1631.5" y2="142.85" stroke="#1a1a1a" stroke-width="2.4"/>
<text class="s" transform="translate(1645.8,144.8)" font-size="30.5">c</text>
<rect x="1278.6" y="147.15" width="367.4" height="21.4" fill="#bd342e"/>
<line x1="1620.3" y1="157.85" x2="1672.8" y2="157.85" stroke="#1a1a1a" stroke-width="2.4"/>
<line x1="1620.3" y1="150.55" x2="1620.3" y2="165.15" stroke="#1a1a1a" stroke-width="2.4"/>
<line x1="1672.8" y1="150.55" x2="1672.8" y2="165.15" stroke="#1a1a1a" stroke-width="2.4"/>
<text class="s" transform="translate(1682.1,166)" font-size="30.5">a</text>
<rect x="1278.6" y="169.45" width="344.9" height="21.4" fill="#f08133"/>
<line x1="1598.5" y1="180.15" x2="1648.5" y2="180.15" stroke="#1a1a1a" stroke-width="2.4"/>
<line x1="1598.5" y1="172.85" x2="1598.5" y2="187.45" stroke="#1a1a1a" stroke-width="2.4"/>
<line x1="1648.5" y1="172.85" x2="1648.5" y2="187.45" stroke="#1a1a1a" stroke-width="2.4"/>
<text class="s" transform="translate(1662.1,191)" font-size="30.5">b</text>
<rect x="1278.6" y="191.75" width="313.4" height="21.4" fill="#424b96"/>
<line x1="1564" y1="202.45" x2="1620.3" y2="202.45" stroke="#1a1a1a" stroke-width="2.4"/>
<line x1="1564" y1="195.15" x2="1564" y2="209.75" stroke="#1a1a1a" stroke-width="2.4"/>
<line x1="1620.3" y1="195.15" x2="1620.3" y2="209.75" stroke="#1a1a1a" stroke-width="2.4"/>
<text class="s" transform="translate(1630.8,214.8)" font-size="30.5">cd</text>
<rect x="1278.6" y="235.55" width="164.2" height="20.8" fill="#70b340"/>
<line x1="1421" y1="245.95" x2="1464.8" y2="245.95" stroke="#1a1a1a" stroke-width="2.4"/>
<line x1="1421" y1="238.65" x2="1421" y2="253.25" stroke="#1a1a1a" stroke-width="2.4"/>
<line x1="1464.8" y1="238.65" x2="1464.8" y2="253.25" stroke="#1a1a1a" stroke-width="2.4"/>
<text class="s" transform="translate(1475.3,252.3)" font-size="30.5">d</text>
<rect x="1278.6" y="257.25" width="259.2" height="20.8" fill="#bd342e"/>
<line x1="1521" y1="267.65" x2="1556.5" y2="267.65" stroke="#1a1a1a" stroke-width="2.4"/>
<line x1="1521" y1="260.35" x2="1521" y2="274.95" stroke="#1a1a1a" stroke-width="2.4"/>
<line x1="1556.5" y1="260.35" x2="1556.5" y2="274.95" stroke="#1a1a1a" stroke-width="2.4"/>
<text class="s" transform="translate(1567.8,275.5)" font-size="30.5">a</text>
<rect x="1278.6" y="278.95" width="220.4" height="20.8" fill="#f08133"/>
<line x1="1479" y1="289.35" x2="1520.3" y2="289.35" stroke="#1a1a1a" stroke-width="2.4"/>
<line x1="1479" y1="282.05" x2="1479" y2="296.65" stroke="#1a1a1a" stroke-width="2.4"/>
<line x1="1520.3" y1="282.05" x2="1520.3" y2="296.65" stroke="#1a1a1a" stroke-width="2.4"/>
<text class="s" transform="translate(1531.3,299.8)" font-size="30.5">b</text>
<rect x="1278.6" y="300.65" width="196.7" height="20.8" fill="#424b96"/>
<line x1="1464" y1="311.05" x2="1487.8" y2="311.05" stroke="#1a1a1a" stroke-width="2.4"/>
<line x1="1464" y1="303.75" x2="1464" y2="318.35" stroke="#1a1a1a" stroke-width="2.4"/>
<line x1="1487.8" y1="303.75" x2="1487.8" y2="318.35" stroke="#1a1a1a" stroke-width="2.4"/>
<text class="s" transform="translate(1500.3,319)" font-size="30.5">c</text>
<rect x="1278.6" y="344.45" width="60.4" height="20.98" fill="#70b340"/>
<line x1="1334" y1="354.94" x2="1345.3" y2="354.94" stroke="#1a1a1a" stroke-width="2.4"/>
<line x1="1334" y1="347.64" x2="1334" y2="362.24" stroke="#1a1a1a" stroke-width="2.4"/>
<line x1="1345.3" y1="347.64" x2="1345.3" y2="362.24" stroke="#1a1a1a" stroke-width="2.4"/>
<text class="s" transform="translate(1357.8,361)" font-size="30.5">c</text>
<rect x="1278.6" y="366.32" width="73.4" height="20.98" fill="#bd342e"/>
<line x1="1344.5" y1="376.81" x2="1361" y2="376.81" stroke="#1a1a1a" stroke-width="2.4"/>
<line x1="1344.5" y1="369.51" x2="1344.5" y2="384.11" stroke="#1a1a1a" stroke-width="2.4"/>
<line x1="1361" y1="369.51" x2="1361" y2="384.11" stroke="#1a1a1a" stroke-width="2.4"/>
<text class="s" transform="translate(1371.3,384)" font-size="30.5">a</text>
<rect x="1278.6" y="388.2" width="72.4" height="20.98" fill="#f08133"/>
<line x1="1342.8" y1="398.69" x2="1360.3" y2="398.69" stroke="#1a1a1a" stroke-width="2.4"/>
<line x1="1342.8" y1="391.39" x2="1342.8" y2="405.99" stroke="#1a1a1a" stroke-width="2.4"/>
<line x1="1360.3" y1="391.39" x2="1360.3" y2="405.99" stroke="#1a1a1a" stroke-width="2.4"/>
<text class="s" transform="translate(1367.8,406)" font-size="30.5">a</text>
<rect x="1278.6" y="410.07" width="68.4" height="20.98" fill="#424b96"/>
<line x1="1339.5" y1="420.56" x2="1357" y2="420.56" stroke="#1a1a1a" stroke-width="2.4"/>
<line x1="1339.5" y1="413.26" x2="1339.5" y2="427.86" stroke="#1a1a1a" stroke-width="2.4"/>
<line x1="1357" y1="413.26" x2="1357" y2="427.86" stroke="#1a1a1a" stroke-width="2.4"/>
<text class="s" transform="translate(1363.8,431)" font-size="30.5">b</text>
<rect x="1278.6" y="454.15" width="38.7" height="20.68" fill="#70b340"/>
<line x1="1314.4" y1="464.49" x2="1320.6" y2="464.49" stroke="#1a1a1a" stroke-width="2.4"/>
<line x1="1314.4" y1="457.19" x2="1314.4" y2="471.79" stroke="#1a1a1a" stroke-width="2.4"/>
<line x1="1320.6" y1="457.19" x2="1320.6" y2="471.79" stroke="#1a1a1a" stroke-width="2.4"/>
<text class="s" transform="translate(1327.3,471)" font-size="30.5">d</text>
<rect x="1278.6" y="475.72" width="47.4" height="20.68" fill="#bd342e"/>
<line x1="1322.3" y1="486.06" x2="1333.5" y2="486.06" stroke="#1a1a1a" stroke-width="2.4"/>
<line x1="1322.3" y1="478.76" x2="1322.3" y2="493.36" stroke="#1a1a1a" stroke-width="2.4"/>
<line x1="1333.5" y1="478.76" x2="1333.5" y2="493.36" stroke="#1a1a1a" stroke-width="2.4"/>
<text class="s" transform="translate(1345.3,494.3)" font-size="30.5">a</text>
<rect x="1278.6" y="497.3" width="44.4" height="20.68" fill="#f08133"/>
<line x1="1320.7" y1="507.64" x2="1328.1" y2="507.64" stroke="#1a1a1a" stroke-width="2.4"/>
<line x1="1320.7" y1="500.34" x2="1320.7" y2="514.94" stroke="#1a1a1a" stroke-width="2.4"/>
<line x1="1328.1" y1="500.34" x2="1328.1" y2="514.94" stroke="#1a1a1a" stroke-width="2.4"/>
<text class="s" transform="translate(1335.8,518)" font-size="30.5">b</text>
<rect x="1278.6" y="518.88" width="42.4" height="20.68" fill="#424b96"/>
<line x1="1317.4" y1="529.21" x2="1323.9" y2="529.21" stroke="#1a1a1a" stroke-width="2.4"/>
<line x1="1317.4" y1="521.91" x2="1317.4" y2="536.51" stroke="#1a1a1a" stroke-width="2.4"/>
<line x1="1323.9" y1="521.91" x2="1323.9" y2="536.51" stroke="#1a1a1a" stroke-width="2.4"/>
<text class="s" transform="translate(1334.6,536.8)" font-size="30.5">c</text>
<rect x="1278.6" y="562.85" width="28.7" height="21" fill="#70b340"/>
<line x1="1304.9" y1="573.35" x2="1309.4" y2="573.35" stroke="#1a1a1a" stroke-width="2.4"/>
<line x1="1304.9" y1="566.05" x2="1304.9" y2="580.65" stroke="#1a1a1a" stroke-width="2.4"/>
<line x1="1309.4" y1="566.05" x2="1309.4" y2="580.65" stroke="#1a1a1a" stroke-width="2.4"/>
<text class="s" transform="translate(1325.3,579)" font-size="30.5">d</text>
<rect x="1278.6" y="584.75" width="34.9" height="21" fill="#bd342e"/>
<line x1="1310.7" y1="595.25" x2="1317.6" y2="595.25" stroke="#1a1a1a" stroke-width="2.4"/>
<line x1="1310.7" y1="587.95" x2="1310.7" y2="602.55" stroke="#1a1a1a" stroke-width="2.4"/>
<line x1="1317.6" y1="587.95" x2="1317.6" y2="602.55" stroke="#1a1a1a" stroke-width="2.4"/>
<text class="s" transform="translate(1328.3,601.8)" font-size="30.5">a</text>
<rect x="1278.6" y="606.65" width="32.4" height="21" fill="#f08133"/>
<line x1="1308.2" y1="617.15" x2="1315.1" y2="617.15" stroke="#1a1a1a" stroke-width="2.4"/>
<line x1="1308.2" y1="609.85" x2="1308.2" y2="624.45" stroke="#1a1a1a" stroke-width="2.4"/>
<line x1="1315.1" y1="609.85" x2="1315.1" y2="624.45" stroke="#1a1a1a" stroke-width="2.4"/>
<text class="s" transform="translate(1321.6,628)" font-size="30.5">b</text>
<rect x="1278.6" y="628.55" width="30.4" height="21" fill="#424b96"/>
<line x1="1306.9" y1="639.05" x2="1313.1" y2="639.05" stroke="#1a1a1a" stroke-width="2.4"/>
<line x1="1306.9" y1="631.75" x2="1306.9" y2="646.35" stroke="#1a1a1a" stroke-width="2.4"/>
<line x1="1313.1" y1="631.75" x2="1313.1" y2="646.35" stroke="#1a1a1a" stroke-width="2.4"/>
<text class="s" transform="translate(1320.3,649.3)" font-size="30.5">bc</text>
<rect x="1278.6" y="673.05" width="16.9" height="20.82" fill="#70b340"/>
<line x1="1293.2" y1="683.46" x2="1296.4" y2="683.46" stroke="#1a1a1a" stroke-width="2.4"/>
<line x1="1293.2" y1="676.16" x2="1293.2" y2="690.76" stroke="#1a1a1a" stroke-width="2.4"/>
<line x1="1296.4" y1="676.16" x2="1296.4" y2="690.76" stroke="#1a1a1a" stroke-width="2.4"/>
<text class="s" transform="translate(1307.3,689.3)" font-size="30.5">c</text>
<rect x="1278.6" y="694.78" width="20.4" height="20.82" fill="#bd342e"/>
<line x1="1297.4" y1="705.19" x2="1302.1" y2="705.19" stroke="#1a1a1a" stroke-width="2.4"/>
<line x1="1297.4" y1="697.89" x2="1297.4" y2="712.49" stroke="#1a1a1a" stroke-width="2.4"/>
<line x1="1302.1" y1="697.89" x2="1302.1" y2="712.49" stroke="#1a1a1a" stroke-width="2.4"/>
<text class="s" transform="translate(1315.3,712.5)" font-size="30.5">a</text>
<rect x="1278.6" y="716.5" width="18.7" height="20.82" fill="#f08133"/>
<line x1="1295.7" y1="726.91" x2="1300.6" y2="726.91" stroke="#1a1a1a" stroke-width="2.4"/>
<line x1="1295.7" y1="719.61" x2="1295.7" y2="734.21" stroke="#1a1a1a" stroke-width="2.4"/>
<line x1="1300.6" y1="719.61" x2="1300.6" y2="734.21" stroke="#1a1a1a" stroke-width="2.4"/>
<text class="s" transform="translate(1307.8,735)" font-size="30.5">ab</text>
<rect x="1278.6" y="738.23" width="18.7" height="20.82" fill="#424b96"/>
<line x1="1295.7" y1="748.64" x2="1300.6" y2="748.64" stroke="#1a1a1a" stroke-width="2.4"/>
<line x1="1295.7" y1="741.34" x2="1295.7" y2="755.94" stroke="#1a1a1a" stroke-width="2.4"/>
<line x1="1300.6" y1="741.34" x2="1300.6" y2="755.94" stroke="#1a1a1a" stroke-width="2.4"/>
<text class="s" transform="translate(1310.3,758)" font-size="30.5">b</text>
<line x1="1277.15" y1="114" x2="1769.55" y2="114" stroke="#1a1a1a" stroke-width="2.5"/>
<line x1="1768.3" y1="114" x2="1768.3" y2="770.7" stroke="#1a1a1a" stroke-width="2.5"/>
<line x1="1277.15" y1="770.7" x2="1769.55" y2="770.7" stroke="#1a1a1a" stroke-width="2.5"/>
<line x1="1278" y1="114" x2="1278" y2="770.7" stroke="#2e2e2e" stroke-width="1.7"/>
<line x1="1278" y1="101.3" x2="1278" y2="114" stroke="#1a1a1a" stroke-width="2.3"/>
<line x1="1401.7" y1="101.3" x2="1401.7" y2="114" stroke="#1a1a1a" stroke-width="2.3"/>
<line x1="1525.5" y1="101.3" x2="1525.5" y2="114" stroke="#1a1a1a" stroke-width="2.3"/>
<line x1="1649.2" y1="101.3" x2="1649.2" y2="114" stroke="#1a1a1a" stroke-width="2.3"/>
<line x1="1265" y1="168" x2="1278" y2="168" stroke="#1a1a1a" stroke-width="2.3"/>
<line x1="1265" y1="277.5" x2="1278" y2="277.5" stroke="#1a1a1a" stroke-width="2.3"/>
<line x1="1265" y1="387.5" x2="1278" y2="387.5" stroke="#1a1a1a" stroke-width="2.3"/>
<line x1="1265" y1="497" x2="1278" y2="497" stroke="#1a1a1a" stroke-width="2.3"/>
<line x1="1265" y1="605.8" x2="1278" y2="605.8" stroke="#1a1a1a" stroke-width="2.3"/>
<line x1="1265" y1="715.8" x2="1278" y2="715.8" stroke="#1a1a1a" stroke-width="2.3"/>
<text class="s" transform="translate(1277.3,85.5)" font-size="33" text-anchor="middle">0.0</text>
<text class="s" transform="translate(1401,85.5)" font-size="33" text-anchor="middle">0.2</text>
<text class="s" transform="translate(1524.8,85.5)" font-size="33" text-anchor="middle">0.4</text>
<text class="s" transform="translate(1648.5,85.5)" font-size="33" text-anchor="middle">0.6</text>
<text class="s" transform="translate(1511,39.3)" font-size="33.3" text-anchor="middle">RLD (cm cm<tspan font-size="19.5" dy="-12.3">-3</tspan><tspan dy="12.3">)</tspan></text>
<text class="b" transform="translate(1215.5,80.5) scale(0.98,1)" font-size="31.3">C</text>
<text class="n" transform="translate(1612.5,275) scale(0.99,1)" font-size="37">2019 R3</text>
<rect x="1490.3" y="633.3" width="43.7" height="110.7" fill="#9ccb84"/>
<rect x="1562.3" y="604" width="42.5" height="140" fill="#7dba5a"/>
<rect x="1632.8" y="616.5" width="43.2" height="127.5" fill="#49893f"/>
<rect x="1704" y="625.8" width="43.3" height="118.2" fill="#395e31"/>
<line x1="1512.8" y1="624.5" x2="1512.8" y2="642" stroke="#1c1c1c" stroke-width="1.5"/>
<line x1="1507" y1="624.5" x2="1518.6" y2="624.5" stroke="#1c1c1c" stroke-width="1.5"/>
<line x1="1507" y1="642" x2="1518.6" y2="642" stroke="#1c1c1c" stroke-width="1.5"/>
<text class="s" transform="translate(1511.5,600.8) scale(1.07,1)" font-size="31" text-anchor="middle">cd</text>
<line x1="1584" y1="594" x2="1584" y2="614.5" stroke="#1c1c1c" stroke-width="1.5"/>
<line x1="1578.2" y1="594" x2="1589.8" y2="594" stroke="#1c1c1c" stroke-width="1.5"/>
<line x1="1578.2" y1="614.5" x2="1589.8" y2="614.5" stroke="#1c1c1c" stroke-width="1.5"/>
<text class="s" transform="translate(1582.8,582.5) scale(1.07,1)" font-size="31" text-anchor="middle">a</text>
<line x1="1654.5" y1="605.8" x2="1654.5" y2="626.3" stroke="#1c1c1c" stroke-width="1.5"/>
<line x1="1648.7" y1="605.8" x2="1660.3" y2="605.8" stroke="#1c1c1c" stroke-width="1.5"/>
<line x1="1648.7" y1="626.3" x2="1660.3" y2="626.3" stroke="#1c1c1c" stroke-width="1.5"/>
<text class="s" transform="translate(1651.5,595) scale(1.07,1)" font-size="31" text-anchor="middle">b</text>
<line x1="1725.8" y1="617.5" x2="1725.8" y2="636.5" stroke="#1c1c1c" stroke-width="1.5"/>
<line x1="1720" y1="617.5" x2="1731.6" y2="617.5" stroke="#1c1c1c" stroke-width="1.5"/>
<line x1="1720" y1="636.5" x2="1731.6" y2="636.5" stroke="#1c1c1c" stroke-width="1.5"/>
<text class="s" transform="translate(1724,597) scale(1.07,1)" font-size="31" text-anchor="middle">c</text>
<line x1="1477.8" y1="488.8" x2="1477.8" y2="744.7" stroke="#303030" stroke-width="1.4"/>
<line x1="1477.8" y1="744" x2="1761.5" y2="744" stroke="#303030" stroke-width="1.4"/>
<line x1="1477.8" y1="489.5" x2="1481.8" y2="489.5" stroke="#303030" stroke-width="1.3"/>
<text class="s" transform="translate(1472.5,496.2) scale(0.97,1)" font-size="21" text-anchor="end">0.4</text>
<line x1="1477.8" y1="552.8" x2="1481.8" y2="552.8" stroke="#303030" stroke-width="1.3"/>
<text class="s" transform="translate(1472.5,559.5) scale(0.97,1)" font-size="21" text-anchor="end">0.3</text>
<line x1="1477.8" y1="616.3" x2="1481.8" y2="616.3" stroke="#303030" stroke-width="1.3"/>
<text class="s" transform="translate(1472.5,623) scale(0.97,1)" font-size="21" text-anchor="end">0.2</text>
<line x1="1477.8" y1="680" x2="1481.8" y2="680" stroke="#303030" stroke-width="1.3"/>
<text class="s" transform="translate(1472.5,686.7) scale(0.97,1)" font-size="21" text-anchor="end">0.1</text>
<line x1="1477.8" y1="744" x2="1481.8" y2="744" stroke="#303030" stroke-width="1.3"/>
<text class="s" transform="translate(1472.5,750.7) scale(0.97,1)" font-size="21" text-anchor="end">0.0</text>
<text class="s" transform="translate(1405,616) rotate(-90) scale(0.97,1)" font-size="23.5" text-anchor="middle">RLD of 0-60cm deep soil layer</text>
<text class="s" transform="translate(1437.5,617) rotate(-90) scale(0.96,1)" font-size="23.5" text-anchor="middle">(cm cm<tspan font-size="14.1" dy="-9.4">-3</tspan><tspan dy="9.4">)</tspan></text>
<rect x="1612.8" y="295.3" width="65" height="32.5" fill="#70b340"/>
<text class="n" transform="translate(1687,321.3) scale(0.97,1)" font-size="29.5">FD5</text>
<rect x="1612.8" y="332.3" width="65" height="31.7" fill="#bd342e"/>
<text class="n" transform="translate(1687,358) scale(0.97,1)" font-size="29.5">FD15</text>
<rect x="1612.8" y="369" width="65" height="32.5" fill="#f08133"/>
<text class="n" transform="translate(1687,395) scale(0.97,1)" font-size="29.5">FD25</text>
<rect x="1612.8" y="406.7" width="65" height="31.5" fill="#424b96"/>
<text class="n" transform="translate(1687,432) scale(0.97,1)" font-size="29.5">FD35</text>
</g>
<g id="panel-D">
<rect x="130.6" y="838.15" width="321.9" height="20.92" fill="#70b340"/>
<line x1="413.8" y1="848.61" x2="490" y2="848.61" stroke="#1a1a1a" stroke-width="2.4"/>
<line x1="413.8" y1="841.31" x2="413.8" y2="855.91" stroke="#1a1a1a" stroke-width="2.4"/>
<line x1="490" y1="841.31" x2="490" y2="855.91" stroke="#1a1a1a" stroke-width="2.4"/>
<text class="s" transform="translate(500.3,859.5)" font-size="30.5">b</text>
<rect x="130.6" y="859.98" width="352.4" height="20.92" fill="#bd342e"/>
<line x1="456.8" y1="870.44" x2="511" y2="870.44" stroke="#1a1a1a" stroke-width="2.4"/>
<line x1="456.8" y1="863.14" x2="456.8" y2="877.74" stroke="#1a1a1a" stroke-width="2.4"/>
<line x1="511" y1="863.14" x2="511" y2="877.74" stroke="#1a1a1a" stroke-width="2.4"/>
<text class="s" transform="translate(522.3,879.5)" font-size="30.5">a</text>
<rect x="130.6" y="881.8" width="310.7" height="20.92" fill="#f08133"/>
<line x1="405" y1="892.26" x2="479.3" y2="892.26" stroke="#1a1a1a" stroke-width="2.4"/>
<line x1="405" y1="884.96" x2="405" y2="899.56" stroke="#1a1a1a" stroke-width="2.4"/>
<line x1="479.3" y1="884.96" x2="479.3" y2="899.56" stroke="#1a1a1a" stroke-width="2.4"/>
<text class="s" transform="translate(486.8,901.3)" font-size="30.5">bc</text>
<rect x="130.6" y="903.62" width="265.7" height="20.92" fill="#424b96"/>
<line x1="366.3" y1="914.09" x2="428" y2="914.09" stroke="#1a1a1a" stroke-width="2.4"/>
<line x1="366.3" y1="906.79" x2="366.3" y2="921.39" stroke="#1a1a1a" stroke-width="2.4"/>
<line x1="428" y1="906.79" x2="428" y2="921.39" stroke="#1a1a1a" stroke-width="2.4"/>
<text class="s" transform="translate(442.3,926.3)" font-size="30.5">d</text>
<rect x="130.6" y="947.45" width="178.2" height="20.5" fill="#70b340"/>
<line x1="291.3" y1="957.7" x2="326.3" y2="957.7" stroke="#1a1a1a" stroke-width="2.4"/>
<line x1="291.3" y1="950.4" x2="291.3" y2="965" stroke="#1a1a1a" stroke-width="2.4"/>
<line x1="326.3" y1="950.4" x2="326.3" y2="965" stroke="#1a1a1a" stroke-width="2.4"/>
<text class="s" transform="translate(345.6,963)" font-size="30.5">b</text>
<rect x="130.6" y="968.85" width="213.2" height="20.5" fill="#bd342e"/>
<line x1="328" y1="979.1" x2="360" y2="979.1" stroke="#1a1a1a" stroke-width="2.4"/>
<line x1="328" y1="971.8" x2="328" y2="986.4" stroke="#1a1a1a" stroke-width="2.4"/>
<line x1="360" y1="971.8" x2="360" y2="986.4" stroke="#1a1a1a" stroke-width="2.4"/>
<text class="s" transform="translate(371.3,987)" font-size="30.5">a</text>
<rect x="130.6" y="990.25" width="172.4" height="20.5" fill="#f08133"/>
<line x1="291.3" y1="1000.5" x2="316.3" y2="1000.5" stroke="#1a1a1a" stroke-width="2.4"/>
<line x1="291.3" y1="993.2" x2="291.3" y2="1007.8" stroke="#1a1a1a" stroke-width="2.4"/>
<line x1="316.3" y1="993.2" x2="316.3" y2="1007.8" stroke="#1a1a1a" stroke-width="2.4"/>
<text class="s" transform="translate(323.8,1011.3)" font-size="30.5">c</text>
<rect x="130.6" y="1011.65" width="118.2" height="20.5" fill="#424b96"/>
<line x1="240" y1="1021.9" x2="260" y2="1021.9" stroke="#1a1a1a" stroke-width="2.4"/>
<line x1="240" y1="1014.6" x2="240" y2="1029.2" stroke="#1a1a1a" stroke-width="2.4"/>
<line x1="260" y1="1014.6" x2="260" y2="1029.2" stroke="#1a1a1a" stroke-width="2.4"/>
<text class="s" transform="translate(269.8,1035)" font-size="30.5">d</text>
<rect x="130.6" y="1056.65" width="49.9" height="20.5" fill="#70b340"/>
<line x1="175.5" y1="1066.9" x2="186.3" y2="1066.9" stroke="#1a1a1a" stroke-width="2.4"/>
<line x1="175.5" y1="1059.6" x2="175.5" y2="1074.2" stroke="#1a1a1a" stroke-width="2.4"/>
<line x1="186.3" y1="1059.6" x2="186.3" y2="1074.2" stroke="#1a1a1a" stroke-width="2.4"/>
<text class="s" transform="translate(189.3,1073)" font-size="30.5">bc</text>
<rect x="130.6" y="1078.05" width="53.2" height="20.5" fill="#bd342e"/>
<line x1="177" y1="1088.3" x2="191.3" y2="1088.3" stroke="#1a1a1a" stroke-width="2.4"/>
<line x1="177" y1="1081" x2="177" y2="1095.6" stroke="#1a1a1a" stroke-width="2.4"/>
<line x1="191.3" y1="1081" x2="191.3" y2="1095.6" stroke="#1a1a1a" stroke-width="2.4"/>
<text class="s" transform="translate(204.3,1095)" font-size="30.5">a</text>
<rect x="130.6" y="1099.45" width="49.4" height="20.5" fill="#f08133"/>
<line x1="173" y1="1109.7" x2="189.3" y2="1109.7" stroke="#1a1a1a" stroke-width="2.4"/>
<line x1="173" y1="1102.4" x2="173" y2="1117" stroke="#1a1a1a" stroke-width="2.4"/>
<line x1="189.3" y1="1102.4" x2="189.3" y2="1117" stroke="#1a1a1a" stroke-width="2.4"/>
<text class="s" transform="translate(196.8,1118.8)" font-size="30.5">b</text>
<rect x="130.6" y="1120.85" width="30.7" height="20.5" fill="#424b96"/>
<line x1="157.9" y1="1131.1" x2="165.1" y2="1131.1" stroke="#1a1a1a" stroke-width="2.4"/>
<line x1="157.9" y1="1123.8" x2="157.9" y2="1138.4" stroke="#1a1a1a" stroke-width="2.4"/>
<line x1="165.1" y1="1123.8" x2="165.1" y2="1138.4" stroke="#1a1a1a" stroke-width="2.4"/>
<text class="s" transform="translate(177.3,1142)" font-size="30.5">d</text>
<rect x="130.6" y="1166.45" width="25.3" height="20.17" fill="#70b340"/>
<line x1="154.3" y1="1176.54" x2="158.2" y2="1176.54" stroke="#1a1a1a" stroke-width="2.4"/>
<line x1="154.3" y1="1169.24" x2="154.3" y2="1183.84" stroke="#1a1a1a" stroke-width="2.4"/>
<line x1="158.2" y1="1169.24" x2="158.2" y2="1183.84" stroke="#1a1a1a" stroke-width="2.4"/>
<text class="s" transform="translate(164.7,1182)" font-size="30.5">b</text>
<rect x="130.6" y="1187.53" width="26" height="20.17" fill="#bd342e"/>
<line x1="156.3" y1="1197.61" x2="160.8" y2="1197.61" stroke="#1a1a1a" stroke-width="2.4"/>
<line x1="156.3" y1="1190.31" x2="156.3" y2="1204.91" stroke="#1a1a1a" stroke-width="2.4"/>
<line x1="160.8" y1="1190.31" x2="160.8" y2="1204.91" stroke="#1a1a1a" stroke-width="2.4"/>
<text class="s" transform="translate(173.5,1205.2)" font-size="30.5">a</text>
<rect x="130.6" y="1208.6" width="25.3" height="20.17" fill="#f08133"/>
<line x1="151.6" y1="1218.69" x2="162.4" y2="1218.69" stroke="#1a1a1a" stroke-width="2.4"/>
<line x1="151.6" y1="1211.39" x2="151.6" y2="1225.99" stroke="#1a1a1a" stroke-width="2.4"/>
<line x1="162.4" y1="1211.39" x2="162.4" y2="1225.99" stroke="#1a1a1a" stroke-width="2.4"/>
<text class="s" transform="translate(170.3,1229.2)" font-size="30.5">b</text>
<rect x="130.6" y="1229.67" width="13.5" height="20.17" fill="#424b96"/>
<line x1="143.8" y1="1239.76" x2="146.5" y2="1239.76" stroke="#1a1a1a" stroke-width="2.4"/>
<line x1="143.8" y1="1232.46" x2="143.8" y2="1247.06" stroke="#1a1a1a" stroke-width="2.4"/>
<line x1="146.5" y1="1232.46" x2="146.5" y2="1247.06" stroke="#1a1a1a" stroke-width="2.4"/>
<text class="s" transform="translate(155.2,1251.8)" font-size="30.5">c</text>
<rect x="130.6" y="1274.35" width="14.3" height="20.87" fill="#70b340"/>
<line x1="144.6" y1="1284.79" x2="146.7" y2="1284.79" stroke="#1a1a1a" stroke-width="2.4"/>
<line x1="144.6" y1="1277.49" x2="144.6" y2="1292.09" stroke="#1a1a1a" stroke-width="2.4"/>
<line x1="146.7" y1="1277.49" x2="146.7" y2="1292.09" stroke="#1a1a1a" stroke-width="2.4"/>
<text class="s" transform="translate(153.4,1293.7)" font-size="30.5">bc</text>
<rect x="130.6" y="1296.13" width="14.8" height="20.87" fill="#bd342e"/>
<line x1="145.3" y1="1306.56" x2="148.4" y2="1306.56" stroke="#1a1a1a" stroke-width="2.4"/>
<line x1="145.3" y1="1299.26" x2="145.3" y2="1313.86" stroke="#1a1a1a" stroke-width="2.4"/>
<line x1="148.4" y1="1299.26" x2="148.4" y2="1313.86" stroke="#1a1a1a" stroke-width="2.4"/>
<text class="s" transform="translate(162.7,1314.5)" font-size="30.5">a</text>
<rect x="130.6" y="1317.9" width="14.3" height="20.87" fill="#f08133"/>
<line x1="144.6" y1="1328.34" x2="147.7" y2="1328.34" stroke="#1a1a1a" stroke-width="2.4"/>
<line x1="144.6" y1="1321.04" x2="144.6" y2="1335.64" stroke="#1a1a1a" stroke-width="2.4"/>
<line x1="147.7" y1="1321.04" x2="147.7" y2="1335.64" stroke="#1a1a1a" stroke-width="2.4"/>
<text class="s" transform="translate(159.7,1340)" font-size="30.5">b</text>
<rect x="130.6" y="1339.67" width="11.8" height="20.87" fill="#424b96"/>
<line x1="142.1" y1="1350.11" x2="144.2" y2="1350.11" stroke="#1a1a1a" stroke-width="2.4"/>
<line x1="142.1" y1="1342.81" x2="142.1" y2="1357.41" stroke="#1a1a1a" stroke-width="2.4"/>
<line x1="144.2" y1="1342.81" x2="144.2" y2="1357.41" stroke="#1a1a1a" stroke-width="2.4"/>
<text class="s" transform="translate(149.2,1361.3)" font-size="30.5">d</text>
<rect x="130.6" y="1384.45" width="6.6" height="20.67" fill="#70b340"/>
<line x1="137.3" y1="1394.79" x2="138.3" y2="1394.79" stroke="#1a1a1a" stroke-width="2.4"/>
<line x1="137.3" y1="1387.49" x2="137.3" y2="1402.09" stroke="#1a1a1a" stroke-width="2.4"/>
<line x1="138.3" y1="1387.49" x2="138.3" y2="1402.09" stroke="#1a1a1a" stroke-width="2.4"/>
<text class="s" transform="translate(146.7,1403.3)" font-size="30.5">d</text>
<rect x="130.6" y="1406.03" width="7.8" height="20.67" fill="#bd342e"/>
<line x1="139" y1="1416.36" x2="140.6" y2="1416.36" stroke="#1a1a1a" stroke-width="2.4"/>
<line x1="139" y1="1409.06" x2="139" y2="1423.66" stroke="#1a1a1a" stroke-width="2.4"/>
<line x1="140.6" y1="1409.06" x2="140.6" y2="1423.66" stroke="#1a1a1a" stroke-width="2.4"/>
<text class="s" transform="translate(152.2,1421.8)" font-size="30.5">a</text>
<rect x="130.6" y="1427.6" width="7.2" height="20.67" fill="#f08133"/>
<line x1="138.4" y1="1437.94" x2="139.7" y2="1437.94" stroke="#1a1a1a" stroke-width="2.4"/>
<line x1="138.4" y1="1430.64" x2="138.4" y2="1445.24" stroke="#1a1a1a" stroke-width="2.4"/>
<line x1="139.7" y1="1430.64" x2="139.7" y2="1445.24" stroke="#1a1a1a" stroke-width="2.4"/>
<text class="s" transform="translate(146.7,1448)" font-size="30.5">b</text>
<rect x="130.6" y="1449.17" width="6.6" height="20.67" fill="#424b96"/>
<line x1="137.9" y1="1459.51" x2="138.9" y2="1459.51" stroke="#1a1a1a" stroke-width="2.4"/>
<line x1="137.9" y1="1452.21" x2="137.9" y2="1466.81" stroke="#1a1a1a" stroke-width="2.4"/>
<line x1="138.9" y1="1452.21" x2="138.9" y2="1466.81" stroke="#1a1a1a" stroke-width="2.4"/>
<text class="s" transform="translate(146.7,1470)" font-size="30.5">c</text>
<line x1="128.75" y1="826.5" x2="620.55" y2="826.5" stroke="#1a1a1a" stroke-width="2.5"/>
<line x1="619.3" y1="826.5" x2="619.3" y2="1482" stroke="#1a1a1a" stroke-width="2.5"/>
<line x1="128.75" y1="1482" x2="620.55" y2="1482" stroke="#1a1a1a" stroke-width="2.5"/>
<line x1="130" y1="826.5" x2="130" y2="1482" stroke="#1a1a1a" stroke-width="2.5"/>
<line x1="130.5" y1="813.8" x2="130.5" y2="826.5" stroke="#1a1a1a" stroke-width="2.3"/>
<line x1="253" y1="813.8" x2="253" y2="826.5" stroke="#1a1a1a" stroke-width="2.3"/>
<line x1="376" y1="813.8" x2="376" y2="826.5" stroke="#1a1a1a" stroke-width="2.3"/>
<line x1="499" y1="813.8" x2="499" y2="826.5" stroke="#1a1a1a" stroke-width="2.3"/>
<line x1="117" y1="880.3" x2="130" y2="880.3" stroke="#1a1a1a" stroke-width="2.3"/>
<line x1="117" y1="989" x2="130" y2="989" stroke="#1a1a1a" stroke-width="2.3"/>
<line x1="117" y1="1098.3" x2="130" y2="1098.3" stroke="#1a1a1a" stroke-width="2.3"/>
<line x1="117" y1="1207.4" x2="130" y2="1207.4" stroke="#1a1a1a" stroke-width="2.3"/>
<line x1="117" y1="1315.7" x2="130" y2="1315.7" stroke="#1a1a1a" stroke-width="2.3"/>
<line x1="117" y1="1425.5" x2="130" y2="1425.5" stroke="#1a1a1a" stroke-width="2.3"/>
<text class="b" transform="translate(47.6,829.6) scale(0.98,1)" font-size="31.3">D</text>
<text class="n" transform="translate(452.5,996) scale(0.99,1)" font-size="37">2020 V6</text>
<text class="i" transform="translate(108.3,880.8) rotate(-57.5)" font-size="33.2" text-anchor="end">0-10</text>
<text class="i" transform="translate(110.3,990.7) rotate(-57.5)" font-size="33.2" text-anchor="end">10-20</text>
<text class="i" transform="translate(110.3,1100) rotate(-57.5)" font-size="33.2" text-anchor="end">20-30</text>
<text class="i" transform="translate(110.3,1209.1) rotate(-57.5)" font-size="33.2" text-anchor="end">30-40</text>
<text class="i" transform="translate(110.3,1317.4) rotate(-57.5)" font-size="33.2" text-anchor="end">40-50</text>
<text class="i" transform="translate(110.3,1427.2) rotate(-57.5)" font-size="33.2" text-anchor="end">50-60</text>
<text class="s" transform="translate(31,1155.6) rotate(-90) scale(1.01,1)" font-size="33" text-anchor="middle">Soil depth (cm)</text>
<rect x="338.3" y="1352" width="43.2" height="103.8" fill="#9ccb84"/>
<rect x="409.5" y="1339" width="43.5" height="116.8" fill="#7dba5a"/>
<rect x="481" y="1354.6" width="44.2" height="101.2" fill="#49893f"/>
<rect x="553.3" y="1376" width="43.7" height="79.8" fill="#395e31"/>
<line x1="361" y1="1344.5" x2="361" y2="1359.6" stroke="#1c1c1c" stroke-width="1.5"/>
<line x1="355.2" y1="1344.5" x2="366.8" y2="1344.5" stroke="#1c1c1c" stroke-width="1.5"/>
<line x1="355.2" y1="1359.6" x2="366.8" y2="1359.6" stroke="#1c1c1c" stroke-width="1.5"/>
<text class="s" transform="translate(357,1325.2) scale(1.07,1)" font-size="31" text-anchor="middle">b</text>
<line x1="432.3" y1="1330.7" x2="432.3" y2="1347" stroke="#1c1c1c" stroke-width="1.5"/>
<line x1="426.5" y1="1330.7" x2="438.1" y2="1330.7" stroke="#1c1c1c" stroke-width="1.5"/>
<line x1="426.5" y1="1347" x2="438.1" y2="1347" stroke="#1c1c1c" stroke-width="1.5"/>
<text class="s" transform="translate(430.6,1318.5) scale(1.07,1)" font-size="31" text-anchor="middle">a</text>
<line x1="503" y1="1344" x2="503" y2="1365.3" stroke="#1c1c1c" stroke-width="1.5"/>
<line x1="497.2" y1="1344" x2="508.8" y2="1344" stroke="#1c1c1c" stroke-width="1.5"/>
<line x1="497.2" y1="1365.3" x2="508.8" y2="1365.3" stroke="#1c1c1c" stroke-width="1.5"/>
<text class="s" transform="translate(504.4,1326.5) scale(1.07,1)" font-size="31" text-anchor="middle">bc</text>
<line x1="574.6" y1="1369.8" x2="574.6" y2="1382.4" stroke="#1c1c1c" stroke-width="1.5"/>
<line x1="568.8" y1="1369.8" x2="580.4" y2="1369.8" stroke="#1c1c1c" stroke-width="1.5"/>
<line x1="568.8" y1="1382.4" x2="580.4" y2="1382.4" stroke="#1c1c1c" stroke-width="1.5"/>
<text class="s" transform="translate(573.3,1351) scale(1.07,1)" font-size="31" text-anchor="middle">d</text>
<line x1="324" y1="1199.3" x2="324" y2="1456.5" stroke="#303030" stroke-width="1.4"/>
<line x1="324" y1="1455.8" x2="611.4" y2="1455.8" stroke="#303030" stroke-width="1.4"/>
<line x1="324" y1="1200" x2="328" y2="1200" stroke="#303030" stroke-width="1.3"/>
<text class="s" transform="translate(318.7,1206.7) scale(0.97,1)" font-size="21" text-anchor="end">0.10</text>
<line x1="324" y1="1251.3" x2="328" y2="1251.3" stroke="#303030" stroke-width="1.3"/>
<text class="s" transform="translate(318.7,1258) scale(0.97,1)" font-size="21" text-anchor="end">0.08</text>
<line x1="324" y1="1302.7" x2="328" y2="1302.7" stroke="#303030" stroke-width="1.3"/>
<text class="s" transform="translate(318.7,1309.4) scale(0.97,1)" font-size="21" text-anchor="end">0.06</text>
<line x1="324" y1="1354" x2="328" y2="1354" stroke="#303030" stroke-width="1.3"/>
<text class="s" transform="translate(318.7,1360.7) scale(0.97,1)" font-size="21" text-anchor="end">0.04</text>
<line x1="324" y1="1404.7" x2="328" y2="1404.7" stroke="#303030" stroke-width="1.3"/>
<text class="s" transform="translate(318.7,1411.4) scale(0.97,1)" font-size="21" text-anchor="end">0.02</text>
<line x1="324" y1="1455.8" x2="328" y2="1455.8" stroke="#303030" stroke-width="1.3"/>
<text class="s" transform="translate(318.7,1462.5) scale(0.97,1)" font-size="21" text-anchor="end">0.00</text>
<text class="s" transform="translate(243,1327.4) rotate(-90) scale(0.97,1)" font-size="23.5" text-anchor="middle">RLD of 0-60cm deep soil layer</text>
<text class="s" transform="translate(274.5,1328) rotate(-90) scale(0.96,1)" font-size="23.5" text-anchor="middle">(cm cm<tspan font-size="14.1" dy="-9.4">-3</tspan><tspan dy="9.4">)</tspan></text>
</g>
<g id="panel-E">
<rect x="706.1" y="836.95" width="328.7" height="21.1" fill="#70b340"/>
<line x1="999.8" y1="847.5" x2="1068.5" y2="847.5" stroke="#1a1a1a" stroke-width="2.4"/>
<line x1="999.8" y1="840.2" x2="999.8" y2="854.8" stroke="#1a1a1a" stroke-width="2.4"/>
<line x1="1068.5" y1="840.2" x2="1068.5" y2="854.8" stroke="#1a1a1a" stroke-width="2.4"/>
<text class="s" transform="translate(1074.1,860)" font-size="30.5">ab</text>
<rect x="706.1" y="858.95" width="339.2" height="21.1" fill="#bd342e"/>
<line x1="1025.5" y1="869.5" x2="1066" y2="869.5" stroke="#1a1a1a" stroke-width="2.4"/>
<line x1="1025.5" y1="862.2" x2="1025.5" y2="876.8" stroke="#1a1a1a" stroke-width="2.4"/>
<line x1="1066" y1="862.2" x2="1066" y2="876.8" stroke="#1a1a1a" stroke-width="2.4"/>
<text class="s" transform="translate(1074.8,880.5)" font-size="30.5">a</text>
<rect x="706.1" y="880.95" width="310.4" height="21.1" fill="#f08133"/>
<line x1="993.5" y1="891.5" x2="1041" y2="891.5" stroke="#1a1a1a" stroke-width="2.4"/>
<line x1="993.5" y1="884.2" x2="993.5" y2="898.8" stroke="#1a1a1a" stroke-width="2.4"/>
<line x1="1041" y1="884.2" x2="1041" y2="898.8" stroke="#1a1a1a" stroke-width="2.4"/>
<text class="s" transform="translate(1057.3,902.5)" font-size="30.5">c</text>
<rect x="706.1" y="902.95" width="286.2" height="21.1" fill="#424b96"/>
<line x1="972.3" y1="913.5" x2="1014" y2="913.5" stroke="#1a1a1a" stroke-width="2.4"/>
<line x1="972.3" y1="906.2" x2="972.3" y2="920.8" stroke="#1a1a1a" stroke-width="2.4"/>
<line x1="1014" y1="906.2" x2="1014" y2="920.8" stroke="#1a1a1a" stroke-width="2.4"/>
<text class="s" transform="translate(1022.3,921.3)" font-size="30.5">d</text>
<rect x="706.1" y="947.45" width="198.7" height="20.98" fill="#70b340"/>
<line x1="889.8" y1="957.94" x2="918.5" y2="957.94" stroke="#1a1a1a" stroke-width="2.4"/>
<line x1="889.8" y1="950.64" x2="889.8" y2="965.24" stroke="#1a1a1a" stroke-width="2.4"/>
<line x1="918.5" y1="950.64" x2="918.5" y2="965.24" stroke="#1a1a1a" stroke-width="2.4"/>
<text class="s" transform="translate(927.3,967)" font-size="30.5">ab</text>
<rect x="706.1" y="969.33" width="204.2" height="20.98" fill="#bd342e"/>
<line x1="888.5" y1="979.81" x2="931.5" y2="979.81" stroke="#1a1a1a" stroke-width="2.4"/>
<line x1="888.5" y1="972.51" x2="888.5" y2="987.11" stroke="#1a1a1a" stroke-width="2.4"/>
<line x1="931.5" y1="972.51" x2="931.5" y2="987.11" stroke="#1a1a1a" stroke-width="2.4"/>
<text class="s" transform="translate(942.8,990)" font-size="30.5">a</text>
<rect x="706.1" y="991.2" width="187.9" height="20.98" fill="#f08133"/>
<line x1="878" y1="1001.69" x2="909" y2="1001.69" stroke="#1a1a1a" stroke-width="2.4"/>
<line x1="878" y1="994.39" x2="878" y2="1008.99" stroke="#1a1a1a" stroke-width="2.4"/>
<line x1="909" y1="994.39" x2="909" y2="1008.99" stroke="#1a1a1a" stroke-width="2.4"/>
<text class="s" transform="translate(924.1,1012)" font-size="30.5">c</text>
<rect x="706.1" y="1013.08" width="166.9" height="20.98" fill="#424b96"/>
<line x1="854.3" y1="1023.56" x2="893" y2="1023.56" stroke="#1a1a1a" stroke-width="2.4"/>
<line x1="854.3" y1="1016.26" x2="854.3" y2="1030.86" stroke="#1a1a1a" stroke-width="2.4"/>
<line x1="893" y1="1016.26" x2="893" y2="1030.86" stroke="#1a1a1a" stroke-width="2.4"/>
<text class="s" transform="translate(905.3,1030.5)" font-size="30.5">d</text>
<rect x="706.1" y="1056.45" width="59.9" height="21.15" fill="#70b340"/>
<line x1="760" y1="1067.03" x2="771.8" y2="1067.03" stroke="#1a1a1a" stroke-width="2.4"/>
<line x1="760" y1="1059.73" x2="760" y2="1074.33" stroke="#1a1a1a" stroke-width="2.4"/>
<line x1="771.8" y1="1059.73" x2="771.8" y2="1074.33" stroke="#1a1a1a" stroke-width="2.4"/>
<text class="s" transform="translate(781.8,1073)" font-size="30.5">c</text>
<rect x="706.1" y="1078.5" width="73.2" height="21.15" fill="#bd342e"/>
<line x1="773" y1="1089.08" x2="786.8" y2="1089.08" stroke="#1a1a1a" stroke-width="2.4"/>
<line x1="773" y1="1081.78" x2="773" y2="1096.38" stroke="#1a1a1a" stroke-width="2.4"/>
<line x1="786.8" y1="1081.78" x2="786.8" y2="1096.38" stroke="#1a1a1a" stroke-width="2.4"/>
<text class="s" transform="translate(800.3,1095.5)" font-size="30.5">a</text>
<rect x="706.1" y="1100.55" width="70.7" height="21.15" fill="#f08133"/>
<line x1="769.3" y1="1111.12" x2="783.5" y2="1111.12" stroke="#1a1a1a" stroke-width="2.4"/>
<line x1="769.3" y1="1103.83" x2="769.3" y2="1118.42" stroke="#1a1a1a" stroke-width="2.4"/>
<line x1="783.5" y1="1103.83" x2="783.5" y2="1118.42" stroke="#1a1a1a" stroke-width="2.4"/>
<text class="s" transform="translate(784.7,1121)" font-size="30.5">ab</text>
<rect x="706.1" y="1122.6" width="57.2" height="21.15" fill="#424b96"/>
<line x1="757.5" y1="1133.18" x2="769" y2="1133.18" stroke="#1a1a1a" stroke-width="2.4"/>
<line x1="757.5" y1="1125.88" x2="757.5" y2="1140.48" stroke="#1a1a1a" stroke-width="2.4"/>
<line x1="769" y1="1125.88" x2="769" y2="1140.48" stroke="#1a1a1a" stroke-width="2.4"/>
<text class="s" transform="translate(773,1143)" font-size="30.5">cd</text>
<rect x="706.1" y="1167.95" width="33.9" height="20.3" fill="#70b340"/>
<line x1="738.4" y1="1178.1" x2="743.6" y2="1178.1" stroke="#1a1a1a" stroke-width="2.4"/>
<line x1="738.4" y1="1170.8" x2="738.4" y2="1185.4" stroke="#1a1a1a" stroke-width="2.4"/>
<line x1="743.6" y1="1170.8" x2="743.6" y2="1185.4" stroke="#1a1a1a" stroke-width="2.4"/>
<text class="s" transform="translate(751.1,1183.4)" font-size="30.5">c</text>
<rect x="706.1" y="1189.15" width="40.2" height="20.3" fill="#bd342e"/>
<line x1="743.4" y1="1199.3" x2="749.1" y2="1199.3" stroke="#1a1a1a" stroke-width="2.4"/>
<line x1="743.4" y1="1192" x2="743.4" y2="1206.6" stroke="#1a1a1a" stroke-width="2.4"/>
<line x1="749.1" y1="1192" x2="749.1" y2="1206.6" stroke="#1a1a1a" stroke-width="2.4"/>
<text class="s" transform="translate(755.6,1206.7)" font-size="30.5">a</text>
<rect x="706.1" y="1210.35" width="37.7" height="20.3" fill="#f08133"/>
<line x1="741.6" y1="1220.5" x2="747.4" y2="1220.5" stroke="#1a1a1a" stroke-width="2.4"/>
<line x1="741.6" y1="1213.2" x2="741.6" y2="1227.8" stroke="#1a1a1a" stroke-width="2.4"/>
<line x1="747.4" y1="1213.2" x2="747.4" y2="1227.8" stroke="#1a1a1a" stroke-width="2.4"/>
<text class="s" transform="translate(754.3,1229.7)" font-size="30.5">b</text>
<rect x="706.1" y="1231.55" width="37.7" height="20.3" fill="#424b96"/>
<line x1="741.6" y1="1241.7" x2="747.4" y2="1241.7" stroke="#1a1a1a" stroke-width="2.4"/>
<line x1="741.6" y1="1234.4" x2="741.6" y2="1249" stroke="#1a1a1a" stroke-width="2.4"/>
<line x1="747.4" y1="1234.4" x2="747.4" y2="1249" stroke="#1a1a1a" stroke-width="2.4"/>
<text class="s" transform="translate(749.8,1252)" font-size="30.5">b</text>
<rect x="706.1" y="1276.35" width="25.1" height="20.82" fill="#70b340"/>
<line x1="729.6" y1="1286.76" x2="732.8" y2="1286.76" stroke="#1a1a1a" stroke-width="2.4"/>
<line x1="729.6" y1="1279.46" x2="729.6" y2="1294.06" stroke="#1a1a1a" stroke-width="2.4"/>
<line x1="732.8" y1="1279.46" x2="732.8" y2="1294.06" stroke="#1a1a1a" stroke-width="2.4"/>
<text class="s" transform="translate(742.6,1292.4)" font-size="30.5">d</text>
<rect x="706.1" y="1298.08" width="30.6" height="20.82" fill="#bd342e"/>
<line x1="735.9" y1="1308.49" x2="739.8" y2="1308.49" stroke="#1a1a1a" stroke-width="2.4"/>
<line x1="735.9" y1="1301.19" x2="735.9" y2="1315.79" stroke="#1a1a1a" stroke-width="2.4"/>
<line x1="739.8" y1="1301.19" x2="739.8" y2="1315.79" stroke="#1a1a1a" stroke-width="2.4"/>
<text class="s" transform="translate(748.6,1313.7)" font-size="30.5">a</text>
<rect x="706.1" y="1319.8" width="27.6" height="20.82" fill="#f08133"/>
<line x1="732.6" y1="1330.21" x2="738.3" y2="1330.21" stroke="#1a1a1a" stroke-width="2.4"/>
<line x1="732.6" y1="1322.91" x2="732.6" y2="1337.51" stroke="#1a1a1a" stroke-width="2.4"/>
<line x1="738.3" y1="1322.91" x2="738.3" y2="1337.51" stroke="#1a1a1a" stroke-width="2.4"/>
<text class="s" transform="translate(747.6,1338)" font-size="30.5">b</text>
<rect x="706.1" y="1341.53" width="26.4" height="20.82" fill="#424b96"/>
<line x1="732.1" y1="1351.94" x2="737.8" y2="1351.94" stroke="#1a1a1a" stroke-width="2.4"/>
<line x1="732.1" y1="1344.64" x2="732.1" y2="1359.24" stroke="#1a1a1a" stroke-width="2.4"/>
<line x1="737.8" y1="1344.64" x2="737.8" y2="1359.24" stroke="#1a1a1a" stroke-width="2.4"/>
<text class="s" transform="translate(744.3,1361.3)" font-size="30.5">c</text>
<rect x="706.1" y="1387.05" width="11.3" height="20.55" fill="#70b340"/>
<line x1="716.9" y1="1397.33" x2="719.1" y2="1397.33" stroke="#1a1a1a" stroke-width="2.4"/>
<line x1="716.9" y1="1390.03" x2="716.9" y2="1404.62" stroke="#1a1a1a" stroke-width="2.4"/>
<line x1="719.1" y1="1390.03" x2="719.1" y2="1404.62" stroke="#1a1a1a" stroke-width="2.4"/>
<text class="s" transform="translate(730.5,1401.4)" font-size="30.5">d</text>
<rect x="706.1" y="1408.5" width="16.3" height="20.55" fill="#bd342e"/>
<line x1="722.6" y1="1418.78" x2="725.8" y2="1418.78" stroke="#1a1a1a" stroke-width="2.4"/>
<line x1="722.6" y1="1411.48" x2="722.6" y2="1426.08" stroke="#1a1a1a" stroke-width="2.4"/>
<line x1="725.8" y1="1411.48" x2="725.8" y2="1426.08" stroke="#1a1a1a" stroke-width="2.4"/>
<text class="s" transform="translate(734.3,1421.5)" font-size="30.5">a</text>
<rect x="706.1" y="1429.95" width="13.9" height="20.55" fill="#f08133"/>
<line x1="719.9" y1="1440.23" x2="722.8" y2="1440.23" stroke="#1a1a1a" stroke-width="2.4"/>
<line x1="719.9" y1="1432.93" x2="719.9" y2="1447.53" stroke="#1a1a1a" stroke-width="2.4"/>
<line x1="722.8" y1="1432.93" x2="722.8" y2="1447.53" stroke="#1a1a1a" stroke-width="2.4"/>
<text class="s" transform="translate(730.5,1446.5)" font-size="30.5">b</text>
<rect x="706.1" y="1451.4" width="12.6" height="20.55" fill="#424b96"/>
<line x1="718.9" y1="1461.68" x2="720.8" y2="1461.68" stroke="#1a1a1a" stroke-width="2.4"/>
<line x1="718.9" y1="1454.38" x2="718.9" y2="1468.98" stroke="#1a1a1a" stroke-width="2.4"/>
<line x1="720.8" y1="1454.38" x2="720.8" y2="1468.98" stroke="#1a1a1a" stroke-width="2.4"/>
<text class="s" transform="translate(728,1466.6)" font-size="30.5">c</text>
<line x1="704.4" y1="826.5" x2="1197.25" y2="826.5" stroke="#1a1a1a" stroke-width="2.5"/>
<line x1="1196" y1="826.5" x2="1196" y2="1484.3" stroke="#1a1a1a" stroke-width="2.5"/>
<line x1="704.4" y1="1484.3" x2="1197.25" y2="1484.3" stroke="#1a1a1a" stroke-width="2.5"/>
<line x1="705.5" y1="826.5" x2="705.5" y2="1484.3" stroke="#1a1a1a" stroke-width="2.2"/>
<line x1="705.5" y1="813.8" x2="705.5" y2="826.5" stroke="#1a1a1a" stroke-width="2.3"/>
<line x1="795.4" y1="813.8" x2="795.4" y2="826.5" stroke="#1a1a1a" stroke-width="2.3"/>
<line x1="885.2" y1="813.8" x2="885.2" y2="826.5" stroke="#1a1a1a" stroke-width="2.3"/>
<line x1="975.1" y1="813.8" x2="975.1" y2="826.5" stroke="#1a1a1a" stroke-width="2.3"/>
<line x1="1064.9" y1="813.8" x2="1064.9" y2="826.5" stroke="#1a1a1a" stroke-width="2.3"/>
<line x1="1154.8" y1="813.8" x2="1154.8" y2="826.5" stroke="#1a1a1a" stroke-width="2.3"/>
<line x1="692.5" y1="880.8" x2="705.5" y2="880.8" stroke="#1a1a1a" stroke-width="2.3"/>
<line x1="692.5" y1="990.3" x2="705.5" y2="990.3" stroke="#1a1a1a" stroke-width="2.3"/>
<line x1="692.5" y1="1100.3" x2="705.5" y2="1100.3" stroke="#1a1a1a" stroke-width="2.3"/>
<line x1="692.5" y1="1208.5" x2="705.5" y2="1208.5" stroke="#1a1a1a" stroke-width="2.3"/>
<line x1="692.5" y1="1319.5" x2="705.5" y2="1319.5" stroke="#1a1a1a" stroke-width="2.3"/>
<line x1="692.5" y1="1429.2" x2="705.5" y2="1429.2" stroke="#1a1a1a" stroke-width="2.3"/>
<text class="b" transform="translate(649.3,829.6) scale(0.98,1)" font-size="31.3">E</text>
<text class="n" transform="translate(1037,996) scale(0.99,1)" font-size="37">2020 VT</text>
<rect x="916" y="1335.8" width="44.4" height="122.8" fill="#9ccb84"/>
<rect x="988.3" y="1325.7" width="43.1" height="132.9" fill="#7dba5a"/>
<rect x="1058.9" y="1336.5" width="43.1" height="122.1" fill="#49893f"/>
<rect x="1130.4" y="1347" width="43.3" height="111.6" fill="#395e31"/>
<line x1="938.6" y1="1324.5" x2="938.6" y2="1345.3" stroke="#1c1c1c" stroke-width="1.5"/>
<line x1="932.8" y1="1324.5" x2="944.4" y2="1324.5" stroke="#1c1c1c" stroke-width="1.5"/>
<line x1="932.8" y1="1345.3" x2="944.4" y2="1345.3" stroke="#1c1c1c" stroke-width="1.5"/>
<text class="s" transform="translate(940,1312) scale(1.07,1)" font-size="31" text-anchor="middle">b</text>
<line x1="1009.3" y1="1314" x2="1009.3" y2="1337.8" stroke="#1c1c1c" stroke-width="1.5"/>
<line x1="1003.5" y1="1314" x2="1015.1" y2="1314" stroke="#1c1c1c" stroke-width="1.5"/>
<line x1="1003.5" y1="1337.8" x2="1015.1" y2="1337.8" stroke="#1c1c1c" stroke-width="1.5"/>
<text class="s" transform="translate(1009.3,1302.7) scale(1.07,1)" font-size="31" text-anchor="middle">a</text>
<line x1="1081" y1="1327.7" x2="1081" y2="1344.5" stroke="#1c1c1c" stroke-width="1.5"/>
<line x1="1075.2" y1="1327.7" x2="1086.8" y2="1327.7" stroke="#1c1c1c" stroke-width="1.5"/>
<line x1="1075.2" y1="1344.5" x2="1086.8" y2="1344.5" stroke="#1c1c1c" stroke-width="1.5"/>
<text class="s" transform="translate(1082,1312) scale(1.07,1)" font-size="31" text-anchor="middle">b</text>
<line x1="1151.7" y1="1339" x2="1151.7" y2="1356.6" stroke="#1c1c1c" stroke-width="1.5"/>
<line x1="1145.9" y1="1339" x2="1157.5" y2="1339" stroke="#1c1c1c" stroke-width="1.5"/>
<line x1="1145.9" y1="1356.6" x2="1157.5" y2="1356.6" stroke="#1c1c1c" stroke-width="1.5"/>
<text class="s" transform="translate(1151.7,1324.5) scale(1.07,1)" font-size="31" text-anchor="middle">c</text>
<line x1="904" y1="1204.3" x2="904" y2="1459.3" stroke="#303030" stroke-width="1.4"/>
<line x1="904" y1="1458.6" x2="1188" y2="1458.6" stroke="#303030" stroke-width="1.4"/>
<line x1="904" y1="1205" x2="908" y2="1205" stroke="#303030" stroke-width="1.3"/>
<text class="s" transform="translate(898.7,1211.7) scale(0.97,1)" font-size="21" text-anchor="end">0.5</text>
<line x1="904" y1="1255.6" x2="908" y2="1255.6" stroke="#303030" stroke-width="1.3"/>
<text class="s" transform="translate(898.7,1262.3) scale(0.97,1)" font-size="21" text-anchor="end">0.4</text>
<line x1="904" y1="1306.4" x2="908" y2="1306.4" stroke="#303030" stroke-width="1.3"/>
<text class="s" transform="translate(898.7,1313.1) scale(0.97,1)" font-size="21" text-anchor="end">0.3</text>
<line x1="904" y1="1357.3" x2="908" y2="1357.3" stroke="#303030" stroke-width="1.3"/>
<text class="s" transform="translate(898.7,1364) scale(0.97,1)" font-size="21" text-anchor="end">0.2</text>
<line x1="904" y1="1408.7" x2="908" y2="1408.7" stroke="#303030" stroke-width="1.3"/>
<text class="s" transform="translate(898.7,1415.4) scale(0.97,1)" font-size="21" text-anchor="end">0.1</text>
<line x1="904" y1="1458.6" x2="908" y2="1458.6" stroke="#303030" stroke-width="1.3"/>
<text class="s" transform="translate(898.7,1465.3) scale(0.97,1)" font-size="21" text-anchor="end">0.0</text>
<text class="s" transform="translate(831.3,1330.6) rotate(-90) scale(0.97,1)" font-size="23.5" text-anchor="middle">RLD of 0-60cm deep soil layer</text>
<text class="s" transform="translate(863.2,1332) rotate(-90) scale(0.98,1)" font-size="23.5" text-anchor="middle">(cm cm<tspan font-size="14.1" dy="-9.4">-3</tspan><tspan dy="9.4">)</tspan></text>
</g>
<g id="panel-F">
<rect x="1278.6" y="839.45" width="345.9" height="20.85" fill="#70b340"/>
<line x1="1606.5" y1="849.88" x2="1641.5" y2="849.88" stroke="#1a1a1a" stroke-width="2.4"/>
<line x1="1606.5" y1="842.58" x2="1606.5" y2="857.17" stroke="#1a1a1a" stroke-width="2.4"/>
<line x1="1641.5" y1="842.58" x2="1641.5" y2="857.17" stroke="#1a1a1a" stroke-width="2.4"/>
<text class="s" transform="translate(1649.6,856.3)" font-size="30.5">ab</text>
<rect x="1278.6" y="861.2" width="354.9" height="20.85" fill="#bd342e"/>
<line x1="1614" y1="871.62" x2="1653.5" y2="871.62" stroke="#1a1a1a" stroke-width="2.4"/>
<line x1="1614" y1="864.33" x2="1614" y2="878.92" stroke="#1a1a1a" stroke-width="2.4"/>
<line x1="1653.5" y1="864.33" x2="1653.5" y2="878.92" stroke="#1a1a1a" stroke-width="2.4"/>
<text class="s" transform="translate(1667.8,879.3)" font-size="30.5">a</text>
<rect x="1278.6" y="882.95" width="332.4" height="20.85" fill="#f08133"/>
<line x1="1582.8" y1="893.38" x2="1639.5" y2="893.38" stroke="#1a1a1a" stroke-width="2.4"/>
<line x1="1582.8" y1="886.08" x2="1582.8" y2="900.67" stroke="#1a1a1a" stroke-width="2.4"/>
<line x1="1639.5" y1="886.08" x2="1639.5" y2="900.67" stroke="#1a1a1a" stroke-width="2.4"/>
<text class="s" transform="translate(1650.3,904.5)" font-size="30.5">b</text>
<rect x="1278.6" y="904.7" width="308.7" height="20.85" fill="#424b96"/>
<line x1="1559.5" y1="915.12" x2="1615.3" y2="915.12" stroke="#1a1a1a" stroke-width="2.4"/>
<line x1="1559.5" y1="907.83" x2="1559.5" y2="922.42" stroke="#1a1a1a" stroke-width="2.4"/>
<line x1="1615.3" y1="907.83" x2="1615.3" y2="922.42" stroke="#1a1a1a" stroke-width="2.4"/>
<text class="s" transform="translate(1627.1,921.3)" font-size="30.5">c</text>
<rect x="1278.6" y="948.95" width="217.9" height="20.6" fill="#70b340"/>
<line x1="1477" y1="959.25" x2="1516" y2="959.25" stroke="#1a1a1a" stroke-width="2.4"/>
<line x1="1477" y1="951.95" x2="1477" y2="966.55" stroke="#1a1a1a" stroke-width="2.4"/>
<line x1="1516" y1="951.95" x2="1516" y2="966.55" stroke="#1a1a1a" stroke-width="2.4"/>
<text class="s" transform="translate(1523.3,967)" font-size="30.5">b</text>
<rect x="1278.6" y="970.45" width="268.4" height="20.6" fill="#bd342e"/>
<line x1="1523.5" y1="980.75" x2="1570.3" y2="980.75" stroke="#1a1a1a" stroke-width="2.4"/>
<line x1="1523.5" y1="973.45" x2="1523.5" y2="988.05" stroke="#1a1a1a" stroke-width="2.4"/>
<line x1="1570.3" y1="973.45" x2="1570.3" y2="988.05" stroke="#1a1a1a" stroke-width="2.4"/>
<text class="s" transform="translate(1577.1,988)" font-size="30.5">a</text>
<rect x="1278.6" y="991.95" width="226.7" height="20.6" fill="#f08133"/>
<line x1="1489.5" y1="1002.25" x2="1521" y2="1002.25" stroke="#1a1a1a" stroke-width="2.4"/>
<line x1="1489.5" y1="994.95" x2="1489.5" y2="1009.55" stroke="#1a1a1a" stroke-width="2.4"/>
<line x1="1521" y1="994.95" x2="1521" y2="1009.55" stroke="#1a1a1a" stroke-width="2.4"/>
<text class="s" transform="translate(1528.3,1012)" font-size="30.5">bc</text>
<rect x="1278.6" y="1013.45" width="192.4" height="20.6" fill="#424b96"/>
<line x1="1447.8" y1="1023.75" x2="1494.5" y2="1023.75" stroke="#1a1a1a" stroke-width="2.4"/>
<line x1="1447.8" y1="1016.45" x2="1447.8" y2="1031.05" stroke="#1a1a1a" stroke-width="2.4"/>
<line x1="1494.5" y1="1016.45" x2="1494.5" y2="1031.05" stroke="#1a1a1a" stroke-width="2.4"/>
<text class="s" transform="translate(1503.3,1034.5)" font-size="30.5">d</text>
<rect x="1278.6" y="1056.45" width="56.7" height="21.15" fill="#70b340"/>
<line x1="1330.5" y1="1067.03" x2="1341" y2="1067.03" stroke="#1a1a1a" stroke-width="2.4"/>
<line x1="1330.5" y1="1059.73" x2="1330.5" y2="1074.33" stroke="#1a1a1a" stroke-width="2.4"/>
<line x1="1341" y1="1059.73" x2="1341" y2="1074.33" stroke="#1a1a1a" stroke-width="2.4"/>
<text class="s" transform="translate(1354.6,1073)" font-size="30.5">c</text>
<rect x="1278.6" y="1078.5" width="71.7" height="21.15" fill="#bd342e"/>
<line x1="1342" y1="1089.08" x2="1358.5" y2="1089.08" stroke="#1a1a1a" stroke-width="2.4"/>
<line x1="1342" y1="1081.78" x2="1342" y2="1096.38" stroke="#1a1a1a" stroke-width="2.4"/>
<line x1="1358.5" y1="1081.78" x2="1358.5" y2="1096.38" stroke="#1a1a1a" stroke-width="2.4"/>
<text class="s" transform="translate(1367.8,1096.3)" font-size="30.5">a</text>
<rect x="1278.6" y="1100.55" width="69.9" height="21.15" fill="#f08133"/>
<line x1="1339" y1="1111.12" x2="1359" y2="1111.12" stroke="#1a1a1a" stroke-width="2.4"/>
<line x1="1339" y1="1103.83" x2="1339" y2="1118.42" stroke="#1a1a1a" stroke-width="2.4"/>
<line x1="1359" y1="1103.83" x2="1359" y2="1118.42" stroke="#1a1a1a" stroke-width="2.4"/>
<text class="s" transform="translate(1367.8,1118)" font-size="30.5">a</text>
<rect x="1278.6" y="1122.6" width="67.4" height="21.15" fill="#424b96"/>
<line x1="1338.5" y1="1133.18" x2="1354" y2="1133.18" stroke="#1a1a1a" stroke-width="2.4"/>
<line x1="1338.5" y1="1125.88" x2="1338.5" y2="1140.48" stroke="#1a1a1a" stroke-width="2.4"/>
<line x1="1354" y1="1125.88" x2="1354" y2="1140.48" stroke="#1a1a1a" stroke-width="2.4"/>
<text class="s" transform="translate(1360.8,1142)" font-size="30.5">ab</text>
<rect x="1278.6" y="1167.95" width="41" height="20.3" fill="#70b340"/>
<line x1="1315.9" y1="1178.1" x2="1323.1" y2="1178.1" stroke="#1a1a1a" stroke-width="2.4"/>
<line x1="1315.9" y1="1170.8" x2="1315.9" y2="1185.4" stroke="#1a1a1a" stroke-width="2.4"/>
<line x1="1323.1" y1="1170.8" x2="1323.1" y2="1185.4" stroke="#1a1a1a" stroke-width="2.4"/>
<text class="s" transform="translate(1337.1,1184.6)" font-size="30.5">c</text>
<rect x="1278.6" y="1189.15" width="47.2" height="20.3" fill="#bd342e"/>
<line x1="1322" y1="1199.3" x2="1332.8" y2="1199.3" stroke="#1a1a1a" stroke-width="2.4"/>
<line x1="1322" y1="1192" x2="1322" y2="1206.6" stroke="#1a1a1a" stroke-width="2.4"/>
<line x1="1332.8" y1="1192" x2="1332.8" y2="1206.6" stroke="#1a1a1a" stroke-width="2.4"/>
<text class="s" transform="translate(1338.3,1205.2)" font-size="30.5">a</text>
<rect x="1278.6" y="1210.35" width="46" height="20.3" fill="#f08133"/>
<line x1="1320.8" y1="1220.5" x2="1332.8" y2="1220.5" stroke="#1a1a1a" stroke-width="2.4"/>
<line x1="1320.8" y1="1213.2" x2="1320.8" y2="1227.8" stroke="#1a1a1a" stroke-width="2.4"/>
<line x1="1332.8" y1="1213.2" x2="1332.8" y2="1227.8" stroke="#1a1a1a" stroke-width="2.4"/>
<text class="s" transform="translate(1342.8,1229.7)" font-size="30.5">a</text>
<rect x="1278.6" y="1231.55" width="44.7" height="20.3" fill="#424b96"/>
<line x1="1322.5" y1="1241.7" x2="1329.1" y2="1241.7" stroke="#1a1a1a" stroke-width="2.4"/>
<line x1="1322.5" y1="1234.4" x2="1322.5" y2="1249" stroke="#1a1a1a" stroke-width="2.4"/>
<line x1="1329.1" y1="1234.4" x2="1329.1" y2="1249" stroke="#1a1a1a" stroke-width="2.4"/>
<text class="s" transform="translate(1337.8,1254.8)" font-size="30.5">ab</text>
<rect x="1278.6" y="1276.35" width="25.4" height="20.82" fill="#70b340"/>
<line x1="1301.7" y1="1286.76" x2="1307.4" y2="1286.76" stroke="#1a1a1a" stroke-width="2.4"/>
<line x1="1301.7" y1="1279.46" x2="1301.7" y2="1294.06" stroke="#1a1a1a" stroke-width="2.4"/>
<line x1="1307.4" y1="1279.46" x2="1307.4" y2="1294.06" stroke="#1a1a1a" stroke-width="2.4"/>
<text class="s" transform="translate(1315.1,1296.2)" font-size="30.5">d</text>
<rect x="1278.6" y="1298.08" width="33" height="20.82" fill="#bd342e"/>
<line x1="1309.9" y1="1308.49" x2="1316.1" y2="1308.49" stroke="#1a1a1a" stroke-width="2.4"/>
<line x1="1309.9" y1="1301.19" x2="1309.9" y2="1315.79" stroke="#1a1a1a" stroke-width="2.4"/>
<line x1="1316.1" y1="1301.19" x2="1316.1" y2="1315.79" stroke="#1a1a1a" stroke-width="2.4"/>
<text class="s" transform="translate(1328.3,1314.5)" font-size="30.5">a</text>
<rect x="1278.6" y="1319.8" width="32.2" height="20.82" fill="#f08133"/>
<line x1="1307" y1="1330.21" x2="1316.6" y2="1330.21" stroke="#1a1a1a" stroke-width="2.4"/>
<line x1="1307" y1="1322.91" x2="1307" y2="1337.51" stroke="#1a1a1a" stroke-width="2.4"/>
<line x1="1316.6" y1="1322.91" x2="1316.6" y2="1337.51" stroke="#1a1a1a" stroke-width="2.4"/>
<text class="s" transform="translate(1322.6,1342)" font-size="30.5">ab</text>
<rect x="1278.6" y="1341.53" width="28.4" height="20.82" fill="#424b96"/>
<line x1="1306.7" y1="1351.94" x2="1312.4" y2="1351.94" stroke="#1a1a1a" stroke-width="2.4"/>
<line x1="1306.7" y1="1344.64" x2="1306.7" y2="1359.24" stroke="#1a1a1a" stroke-width="2.4"/>
<line x1="1312.4" y1="1344.64" x2="1312.4" y2="1359.24" stroke="#1a1a1a" stroke-width="2.4"/>
<text class="s" transform="translate(1322.6,1362.6)" font-size="30.5">c</text>
<rect x="1278.6" y="1386.55" width="14.7" height="20.53" fill="#70b340"/>
<line x1="1292.9" y1="1396.81" x2="1294.9" y2="1396.81" stroke="#1a1a1a" stroke-width="2.4"/>
<line x1="1292.9" y1="1389.51" x2="1292.9" y2="1404.11" stroke="#1a1a1a" stroke-width="2.4"/>
<line x1="1294.9" y1="1389.51" x2="1294.9" y2="1404.11" stroke="#1a1a1a" stroke-width="2.4"/>
<text class="s" transform="translate(1306.3,1401.4)" font-size="30.5">b</text>
<rect x="1278.6" y="1407.97" width="15.9" height="20.53" fill="#bd342e"/>
<line x1="1293.4" y1="1418.24" x2="1298.6" y2="1418.24" stroke="#1a1a1a" stroke-width="2.4"/>
<line x1="1293.4" y1="1410.94" x2="1293.4" y2="1425.54" stroke="#1a1a1a" stroke-width="2.4"/>
<line x1="1298.6" y1="1410.94" x2="1298.6" y2="1425.54" stroke="#1a1a1a" stroke-width="2.4"/>
<text class="s" transform="translate(1306.3,1424)" font-size="30.5">a</text>
<rect x="1278.6" y="1429.4" width="15.9" height="20.53" fill="#f08133"/>
<line x1="1294.2" y1="1439.66" x2="1297.4" y2="1439.66" stroke="#1a1a1a" stroke-width="2.4"/>
<line x1="1294.2" y1="1432.36" x2="1294.2" y2="1446.96" stroke="#1a1a1a" stroke-width="2.4"/>
<line x1="1297.4" y1="1432.36" x2="1297.4" y2="1446.96" stroke="#1a1a1a" stroke-width="2.4"/>
<text class="s" transform="translate(1308.8,1448.3)" font-size="30.5">a</text>
<rect x="1278.6" y="1450.83" width="14.7" height="20.53" fill="#424b96"/>
<line x1="1292.4" y1="1461.09" x2="1298.6" y2="1461.09" stroke="#1a1a1a" stroke-width="2.4"/>
<line x1="1292.4" y1="1453.79" x2="1292.4" y2="1468.39" stroke="#1a1a1a" stroke-width="2.4"/>
<line x1="1298.6" y1="1453.79" x2="1298.6" y2="1468.39" stroke="#1a1a1a" stroke-width="2.4"/>
<text class="s" transform="translate(1308.8,1472.4)" font-size="30.5">a</text>
<line x1="1277.15" y1="827.8" x2="1768.95" y2="827.8" stroke="#1a1a1a" stroke-width="2.5"/>
<line x1="1767.7" y1="827.8" x2="1767.7" y2="1483.5" stroke="#1a1a1a" stroke-width="2.5"/>
<line x1="1277.15" y1="1483.5" x2="1768.95" y2="1483.5" stroke="#1a1a1a" stroke-width="2.5"/>
<line x1="1278" y1="827.8" x2="1278" y2="1483.5" stroke="#2e2e2e" stroke-width="1.7"/>
<line x1="1278" y1="815.1" x2="1278" y2="827.8" stroke="#1a1a1a" stroke-width="2.3"/>
<line x1="1401.7" y1="815.1" x2="1401.7" y2="827.8" stroke="#1a1a1a" stroke-width="2.3"/>
<line x1="1525.5" y1="815.1" x2="1525.5" y2="827.8" stroke="#1a1a1a" stroke-width="2.3"/>
<line x1="1649.2" y1="815.1" x2="1649.2" y2="827.8" stroke="#1a1a1a" stroke-width="2.3"/>
<line x1="1265" y1="881.5" x2="1278" y2="881.5" stroke="#1a1a1a" stroke-width="2.3"/>
<line x1="1265" y1="990.3" x2="1278" y2="990.3" stroke="#1a1a1a" stroke-width="2.3"/>
<line x1="1265" y1="1100.3" x2="1278" y2="1100.3" stroke="#1a1a1a" stroke-width="2.3"/>
<line x1="1265" y1="1209.2" x2="1278" y2="1209.2" stroke="#1a1a1a" stroke-width="2.3"/>
<line x1="1265" y1="1319.5" x2="1278" y2="1319.5" stroke="#1a1a1a" stroke-width="2.3"/>
<line x1="1265" y1="1429.2" x2="1278" y2="1429.2" stroke="#1a1a1a" stroke-width="2.3"/>
<text class="b" transform="translate(1215.5,830.3) scale(0.98,1)" font-size="31.3">F</text>
<text class="n" transform="translate(1614,996) scale(0.99,1)" font-size="37">2020 R3</text>
<rect x="1488.6" y="1338.5" width="43.9" height="120.3" fill="#9ccb84"/>
<rect x="1560.8" y="1322" width="42.6" height="136.8" fill="#7dba5a"/>
<rect x="1631.8" y="1333.5" width="44.2" height="125.3" fill="#49893f"/>
<rect x="1703.7" y="1343.5" width="43.8" height="115.3" fill="#395e31"/>
<line x1="1510.7" y1="1329" x2="1510.7" y2="1346.5" stroke="#1c1c1c" stroke-width="1.5"/>
<line x1="1504.9" y1="1329" x2="1516.5" y2="1329" stroke="#1c1c1c" stroke-width="1.5"/>
<line x1="1504.9" y1="1346.5" x2="1516.5" y2="1346.5" stroke="#1c1c1c" stroke-width="1.5"/>
<text class="s" transform="translate(1509,1312) scale(1.07,1)" font-size="31" text-anchor="middle">bc</text>
<line x1="1581.6" y1="1312.7" x2="1581.6" y2="1331" stroke="#1c1c1c" stroke-width="1.5"/>
<line x1="1575.8" y1="1312.7" x2="1587.4" y2="1312.7" stroke="#1c1c1c" stroke-width="1.5"/>
<line x1="1575.8" y1="1331" x2="1587.4" y2="1331" stroke="#1c1c1c" stroke-width="1.5"/>
<text class="s" transform="translate(1582,1302.7) scale(1.07,1)" font-size="31" text-anchor="middle">a</text>
<line x1="1653.6" y1="1324.5" x2="1653.6" y2="1342.8" stroke="#1c1c1c" stroke-width="1.5"/>
<line x1="1647.8" y1="1324.5" x2="1659.4" y2="1324.5" stroke="#1c1c1c" stroke-width="1.5"/>
<line x1="1647.8" y1="1342.8" x2="1659.4" y2="1342.8" stroke="#1c1c1c" stroke-width="1.5"/>
<text class="s" transform="translate(1654.3,1312) scale(1.07,1)" font-size="31" text-anchor="middle">b</text>
<line x1="1725.5" y1="1336.5" x2="1725.5" y2="1353.6" stroke="#1c1c1c" stroke-width="1.5"/>
<line x1="1719.7" y1="1336.5" x2="1731.3" y2="1336.5" stroke="#1c1c1c" stroke-width="1.5"/>
<line x1="1719.7" y1="1353.6" x2="1731.3" y2="1353.6" stroke="#1c1c1c" stroke-width="1.5"/>
<text class="s" transform="translate(1725,1322.7) scale(1.07,1)" font-size="31" text-anchor="middle">c</text>
<line x1="1476.4" y1="1203.5" x2="1476.4" y2="1459.5" stroke="#303030" stroke-width="1.4"/>
<line x1="1476.4" y1="1458.8" x2="1761.3" y2="1458.8" stroke="#303030" stroke-width="1.4"/>
<line x1="1476.4" y1="1204.2" x2="1480.4" y2="1204.2" stroke="#303030" stroke-width="1.3"/>
<text class="s" transform="translate(1471.1,1210.9) scale(0.97,1)" font-size="21" text-anchor="end">0.4</text>
<line x1="1476.4" y1="1267.6" x2="1480.4" y2="1267.6" stroke="#303030" stroke-width="1.3"/>
<text class="s" transform="translate(1471.1,1274.3) scale(0.97,1)" font-size="21" text-anchor="end">0.3</text>
<line x1="1476.4" y1="1332.3" x2="1480.4" y2="1332.3" stroke="#303030" stroke-width="1.3"/>
<text class="s" transform="translate(1471.1,1339) scale(0.97,1)" font-size="21" text-anchor="end">0.2</text>
<line x1="1476.4" y1="1395.9" x2="1480.4" y2="1395.9" stroke="#303030" stroke-width="1.3"/>
<text class="s" transform="translate(1471.1,1402.6) scale(0.97,1)" font-size="21" text-anchor="end">0.1</text>
<line x1="1476.4" y1="1458.8" x2="1480.4" y2="1458.8" stroke="#303030" stroke-width="1.3"/>
<text class="s" transform="translate(1471.1,1465.5) scale(0.97,1)" font-size="21" text-anchor="end">0.0</text>
<text class="s" transform="translate(1403.9,1330.6) rotate(-90) scale(0.97,1)" font-size="23.5" text-anchor="middle">RLD of 0-60cm deep soil layer</text>
<text class="s" transform="translate(1435.7,1332) rotate(-90) scale(0.98,1)" font-size="23.5" text-anchor="middle">(cm cm<tspan font-size="14.1" dy="-9.4">-3</tspan><tspan dy="9.4">)</tspan></text>
<rect x="1639.8" y="1150.8" width="53.9" height="27.3" fill="#9ccb84"/>
<text class="n" transform="translate(1699.4,1171.9)" font-size="23.5">FD5</text>
<rect x="1639.8" y="1179.5" width="53.9" height="27.2" fill="#7dba5a"/>
<text class="n" transform="translate(1699.4,1200.7)" font-size="23.5">FD15</text>
<rect x="1639.8" y="1208.2" width="53.9" height="27.3" fill="#49893f"/>
<text class="n" transform="translate(1699.4,1230)" font-size="23.5">FD25</text>
<rect x="1639.8" y="1237.4" width="53.9" height="26.4" fill="#395e31"/>
<text class="n" transform="translate(1699.4,1257.6)" font-size="23.5">FD35</text>
</g>
</svg>
</body>
</html>
